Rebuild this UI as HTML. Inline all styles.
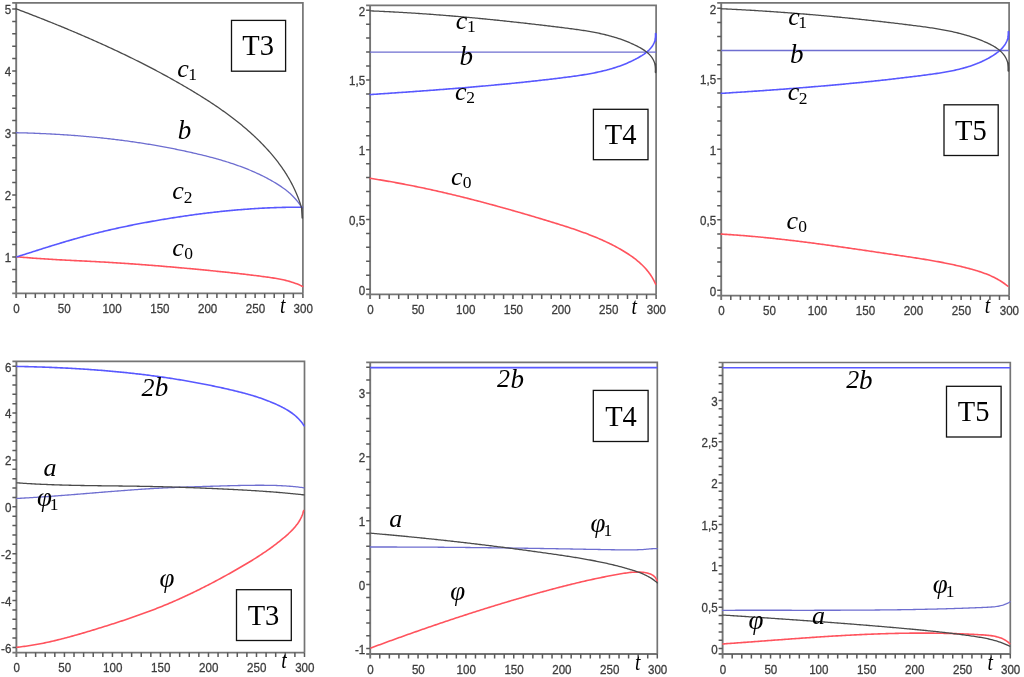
<!DOCTYPE html>
<html><head><meta charset="utf-8"><title>plots</title>
<style>
html,body{margin:0;padding:0;background:#fff;}
body{width:1024px;height:677px;overflow:hidden;}
svg{display:block;filter:blur(0.4px);}
.tl{font-family:"Liberation Sans",sans-serif;font-size:12.6px;fill:#3c3c3c;stroke:#3c3c3c;stroke-width:0.3px;}
.it{font-family:"Liberation Serif",serif;font-style:italic;fill:#000;}
.it{font-size:26px;}
.sb{font-family:"Liberation Serif",serif;font-size:17.5px;fill:#000;}
.tt{font-family:"Liberation Serif",serif;font-style:italic;font-size:23px;fill:#000;}
.tb{font-family:"Liberation Serif",serif;font-size:28.5px;fill:#000;}
</style></head>
<body><svg width="1024" height="677" viewBox="0 0 1024 677">
<rect width="1024" height="677" fill="#fff"/>
<path d="M12.20,2.90 H302.90 V293.40" fill="none" stroke="#747474" stroke-width="1.7"/>
<path d="M16.20,2.90 V297.90 M12.20,293.40 H302.90" fill="none" stroke="#747474" stroke-width="1.9"/>
<path d="M12.20,281.80H16.20M12.20,269.40H16.20M12.20,257.00H16.20M12.20,244.60H16.20M12.20,232.20H16.20M12.20,219.80H16.20M12.20,207.40H16.20M12.20,195.00H16.20M12.20,182.60H16.20M12.20,170.20H16.20M12.20,157.80H16.20M12.20,145.40H16.20M12.20,133.00H16.20M12.20,120.60H16.20M12.20,108.20H16.20M12.20,95.80H16.20M12.20,83.40H16.20M12.20,71.00H16.20M12.20,58.60H16.20M12.20,46.20H16.20M12.20,33.80H16.20M12.20,21.40H16.20M12.20,9.00H16.20M25.76,293.40V297.90M35.31,293.40V297.90M44.87,293.40V297.90M54.43,293.40V297.90M63.98,293.40V297.90M73.54,293.40V297.90M83.10,293.40V297.90M92.65,293.40V297.90M102.21,293.40V297.90M111.77,293.40V297.90M121.32,293.40V297.90M130.88,293.40V297.90M140.44,293.40V297.90M149.99,293.40V297.90M159.55,293.40V297.90M169.11,293.40V297.90M178.66,293.40V297.90M188.22,293.40V297.90M197.78,293.40V297.90M207.33,293.40V297.90M216.89,293.40V297.90M226.45,293.40V297.90M236.00,293.40V297.90M245.56,293.40V297.90M255.12,293.40V297.90M264.67,293.40V297.90M274.23,293.40V297.90M283.79,293.40V297.90M293.34,293.40V297.90M302.90,293.40V297.90" stroke="#5a5a5a" stroke-width="1.5"/>
<text transform="translate(11.20,262.30) scale(0.92,1)" class="tl" text-anchor="end">1</text>
<text transform="translate(11.20,200.30) scale(0.92,1)" class="tl" text-anchor="end">2</text>
<text transform="translate(11.20,138.30) scale(0.92,1)" class="tl" text-anchor="end">3</text>
<text transform="translate(11.20,76.30) scale(0.92,1)" class="tl" text-anchor="end">4</text>
<text transform="translate(11.20,14.30) scale(0.92,1)" class="tl" text-anchor="end">5</text>
<text transform="translate(16.50,312.90) scale(0.92,1)" class="tl" text-anchor="middle">0</text>
<text transform="translate(64.28,312.90) scale(0.92,1)" class="tl" text-anchor="middle">50</text>
<text transform="translate(112.07,312.90) scale(0.92,1)" class="tl" text-anchor="middle">100</text>
<text transform="translate(159.85,312.90) scale(0.92,1)" class="tl" text-anchor="middle">150</text>
<text transform="translate(207.63,312.90) scale(0.92,1)" class="tl" text-anchor="middle">200</text>
<text transform="translate(255.42,312.90) scale(0.92,1)" class="tl" text-anchor="middle">250</text>
<text transform="translate(303.20,312.90) scale(0.92,1)" class="tl" text-anchor="middle">300</text>
<path d="M16.90,256.73 L18.21,256.86 L19.52,256.98 L20.83,257.10 L22.14,257.22 L23.45,257.33 L24.76,257.44 L26.07,257.55 L27.38,257.66 L28.69,257.77 L30.01,257.87 L31.32,257.98 L32.63,258.08 L33.94,258.18 L35.25,258.27 L36.56,258.37 L37.88,258.46 L39.19,258.55 L40.50,258.64 L41.81,258.73 L43.13,258.82 L44.44,258.90 L45.75,258.98 L47.06,259.07 L48.38,259.15 L49.69,259.23 L51.00,259.31 L52.32,259.38 L53.63,259.46 L54.94,259.54 L56.26,259.61 L57.57,259.68 L58.88,259.76 L60.20,259.83 L61.51,259.90 L62.83,259.97 L64.14,260.04 L65.45,260.11 L66.77,260.18 L68.08,260.24 L69.40,260.31 L70.71,260.38 L72.02,260.44 L73.34,260.51 L74.65,260.58 L75.97,260.64 L77.28,260.71 L78.60,260.77 L79.91,260.84 L81.22,260.91 L82.54,260.97 L83.85,261.04 L85.17,261.10 L86.48,261.17 L87.80,261.24 L89.11,261.30 L90.43,261.37 L91.74,261.44 L93.06,261.51 L94.37,261.57 L95.68,261.64 L97.00,261.71 L98.31,261.78 L99.63,261.86 L100.94,261.93 L102.26,262.00 L103.57,262.07 L104.89,262.15 L106.20,262.23 L107.52,262.30 L108.83,262.38 L110.14,262.46 L111.46,262.54 L112.77,262.62 L114.09,262.70 L115.40,262.78 L116.72,262.86 L118.03,262.95 L119.34,263.03 L120.66,263.12 L121.97,263.20 L123.29,263.29 L124.60,263.38 L125.91,263.47 L127.23,263.55 L128.54,263.64 L129.86,263.74 L131.17,263.83 L132.48,263.92 L133.80,264.01 L135.11,264.11 L136.42,264.20 L137.74,264.30 L139.05,264.39 L140.37,264.49 L141.68,264.59 L142.99,264.69 L144.30,264.79 L145.62,264.89 L146.93,264.99 L148.24,265.09 L149.56,265.19 L150.87,265.29 L152.18,265.40 L153.49,265.50 L154.81,265.60 L156.12,265.71 L157.43,265.82 L158.74,265.92 L160.06,266.03 L161.37,266.14 L162.68,266.25 L163.99,266.36 L165.30,266.47 L166.61,266.58 L167.93,266.69 L169.24,266.80 L170.55,266.91 L171.86,267.03 L173.17,267.14 L174.48,267.25 L175.79,267.37 L177.10,267.48 L178.41,267.60 L179.72,267.72 L181.03,267.83 L182.34,267.95 L183.65,268.07 L184.96,268.19 L186.27,268.31 L187.58,268.43 L188.89,268.55 L190.20,268.67 L191.51,268.79 L192.82,268.91 L194.13,269.04 L195.44,269.16 L196.75,269.28 L198.05,269.41 L199.36,269.53 L200.67,269.66 L201.98,269.78 L203.29,269.91 L204.59,270.04 L205.90,270.16 L207.21,270.29 L208.52,270.42 L209.82,270.55 L211.13,270.68 L212.44,270.81 L213.74,270.94 L215.05,271.07 L216.36,271.20 L217.66,271.33 L218.97,271.46 L220.28,271.60 L221.58,271.73 L222.89,271.87 L224.20,272.00 L225.50,272.14 L226.81,272.28 L228.12,272.42 L229.42,272.56 L230.73,272.70 L232.04,272.84 L233.34,272.98 L234.65,273.12 L235.96,273.27 L237.26,273.41 L238.57,273.56 L239.88,273.71 L241.19,273.86 L242.50,274.01 L243.80,274.16 L245.11,274.31 L246.42,274.47 L247.73,274.62 L249.04,274.78 L250.35,274.94 L251.66,275.09 L252.97,275.26 L254.28,275.42 L255.59,275.58 L256.90,275.75 L258.21,275.91 L259.52,276.08 L260.84,276.25 L262.15,276.42 L263.46,276.59 L264.78,276.77 L266.09,276.94 L267.40,277.12 L268.72,277.31 L270.03,277.49 L271.34,277.69 L272.65,277.89 L273.96,278.09 L275.26,278.31 L276.56,278.53 L277.86,278.76 L279.16,279.00 L280.45,279.26 L281.74,279.52 L283.03,279.80 L284.31,280.08 L285.58,280.39 L286.85,280.71 L288.12,281.04 L289.38,281.39 L290.63,281.76 L291.87,282.14 L293.11,282.54 L294.34,282.96 L295.57,283.41 L296.78,283.87 L297.99,284.35 L299.19,284.86 L300.38,285.39 L301.56,285.95 L302.73,286.52" fill="none" stroke="#ff535d" stroke-width="1.6" stroke-linejoin="round" stroke-linecap="round"/>
<path d="M16.93,256.81 L18.20,256.41 L19.46,256.01 L20.72,255.61 L21.99,255.21 L23.25,254.81 L24.52,254.41 L25.78,254.00 L27.05,253.60 L28.31,253.20 L29.58,252.79 L30.84,252.39 L32.10,251.99 L33.37,251.58 L34.63,251.18 L35.90,250.78 L37.17,250.37 L38.43,249.97 L39.70,249.57 L40.96,249.17 L42.23,248.76 L43.50,248.36 L44.77,247.96 L46.03,247.56 L47.30,247.17 L48.57,246.77 L49.84,246.37 L51.11,245.98 L52.38,245.59 L53.65,245.19 L54.92,244.80 L56.19,244.41 L57.46,244.03 L58.73,243.64 L60.00,243.25 L61.28,242.87 L62.55,242.49 L63.82,242.11 L65.10,241.73 L66.37,241.35 L67.65,240.98 L68.92,240.61 L70.20,240.24 L71.48,239.87 L72.75,239.50 L74.03,239.13 L75.31,238.77 L76.59,238.41 L77.87,238.05 L79.15,237.69 L80.43,237.34 L81.71,236.99 L82.99,236.64 L84.28,236.29 L85.56,235.94 L86.84,235.60 L88.13,235.26 L89.41,234.92 L90.70,234.58 L91.99,234.25 L93.27,233.92 L94.56,233.59 L95.85,233.27 L97.14,232.94 L98.43,232.62 L99.72,232.30 L101.01,231.99 L102.30,231.67 L103.59,231.36 L104.89,231.06 L106.18,230.75 L107.47,230.45 L108.77,230.14 L110.06,229.85 L111.36,229.55 L112.65,229.25 L113.95,228.96 L115.25,228.67 L116.55,228.38 L117.84,228.10 L119.14,227.82 L120.44,227.54 L121.74,227.26 L123.04,226.98 L124.34,226.70 L125.64,226.43 L126.94,226.16 L128.25,225.89 L129.55,225.63 L130.85,225.36 L132.16,225.10 L133.46,224.84 L134.76,224.58 L136.07,224.32 L137.37,224.07 L138.68,223.82 L139.99,223.57 L141.29,223.32 L142.60,223.07 L143.91,222.83 L145.21,222.58 L146.52,222.34 L147.83,222.10 L149.14,221.86 L150.45,221.63 L151.76,221.39 L153.07,221.16 L154.38,220.93 L155.69,220.70 L157.00,220.47 L158.31,220.24 L159.62,220.02 L160.93,219.80 L162.24,219.57 L163.55,219.35 L164.87,219.14 L166.18,218.92 L167.49,218.70 L168.80,218.49 L170.12,218.28 L171.43,218.07 L172.75,217.86 L174.06,217.65 L175.37,217.45 L176.69,217.24 L178.00,217.04 L179.32,216.84 L180.64,216.64 L181.95,216.45 L183.27,216.25 L184.58,216.06 L185.90,215.87 L187.22,215.68 L188.53,215.49 L189.85,215.31 L191.17,215.12 L192.49,214.94 L193.81,214.76 L195.12,214.58 L196.44,214.41 L197.76,214.23 L199.08,214.06 L200.40,213.89 L201.72,213.72 L203.04,213.55 L204.36,213.39 L205.68,213.22 L207.00,213.06 L208.32,212.90 L209.64,212.75 L210.96,212.59 L212.28,212.44 L213.60,212.29 L214.93,212.14 L216.25,211.99 L217.57,211.84 L218.89,211.70 L220.21,211.56 L221.54,211.42 L222.86,211.28 L224.18,211.15 L225.51,211.01 L226.83,210.88 L228.15,210.76 L229.48,210.63 L230.80,210.50 L232.12,210.38 L233.45,210.26 L234.77,210.14 L236.10,210.03 L237.42,209.91 L238.75,209.80 L240.07,209.69 L241.40,209.58 L242.72,209.48 L244.05,209.38 L245.37,209.28 L246.70,209.18 L248.03,209.08 L249.35,208.99 L250.68,208.90 L252.01,208.81 L253.33,208.72 L254.66,208.63 L255.99,208.55 L257.31,208.47 L258.64,208.39 L259.97,208.32 L261.29,208.24 L262.62,208.17 L263.95,208.11 L265.28,208.04 L266.61,207.98 L267.93,207.91 L269.26,207.86 L270.59,207.80 L271.92,207.75 L273.25,207.69 L274.58,207.64 L275.90,207.60 L277.23,207.55 L278.56,207.51 L279.89,207.47 L281.22,207.44 L282.55,207.40 L283.88,207.37 L285.21,207.34 L286.54,207.31 L287.87,207.29 L289.20,207.27 L290.53,207.25 L291.86,207.23 L293.19,207.22 L294.52,207.21 L295.85,207.20 L297.18,207.19 L298.51,207.19 L299.84,207.19 L301.17,207.19 L302.50,207.19" fill="none" stroke="#5858ff" stroke-width="1.6" stroke-linejoin="round" stroke-linecap="round"/>
<path d="M16.29,132.72 L17.68,132.75 L19.07,132.78 L20.46,132.82 L21.86,132.86 L23.25,132.89 L24.64,132.93 L26.03,132.97 L27.42,133.02 L28.81,133.06 L30.19,133.11 L31.58,133.15 L32.97,133.20 L34.36,133.26 L35.75,133.31 L37.14,133.36 L38.53,133.42 L39.91,133.48 L41.30,133.54 L42.69,133.60 L44.07,133.66 L45.46,133.72 L46.85,133.79 L48.23,133.86 L49.62,133.93 L51.00,134.00 L52.39,134.07 L53.77,134.15 L55.16,134.23 L56.54,134.31 L57.93,134.39 L59.31,134.47 L60.70,134.55 L62.08,134.64 L63.46,134.73 L64.85,134.82 L66.23,134.91 L67.61,135.01 L68.99,135.10 L70.38,135.20 L71.76,135.30 L73.14,135.40 L74.52,135.50 L75.90,135.61 L77.28,135.72 L78.66,135.83 L80.04,135.94 L81.42,136.05 L82.80,136.17 L84.18,136.29 L85.56,136.40 L86.94,136.53 L88.32,136.65 L89.70,136.78 L91.08,136.90 L92.46,137.03 L93.83,137.17 L95.21,137.30 L96.59,137.44 L97.97,137.57 L99.34,137.71 L100.72,137.86 L102.10,138.00 L103.47,138.15 L104.85,138.30 L106.22,138.45 L107.60,138.60 L108.97,138.76 L110.35,138.91 L111.72,139.07 L113.10,139.24 L114.47,139.40 L115.84,139.57 L117.22,139.74 L118.59,139.91 L119.96,140.08 L121.34,140.26 L122.71,140.43 L124.08,140.61 L125.45,140.80 L126.82,140.98 L128.19,141.17 L129.56,141.36 L130.94,141.55 L132.31,141.74 L133.68,141.94 L135.05,142.14 L136.42,142.34 L137.78,142.54 L139.15,142.75 L140.52,142.96 L141.89,143.17 L143.26,143.38 L144.63,143.60 L145.99,143.81 L147.36,144.03 L148.73,144.26 L150.10,144.48 L151.46,144.71 L152.83,144.94 L154.20,145.17 L155.56,145.41 L156.93,145.65 L158.29,145.89 L159.66,146.13 L161.02,146.38 L162.39,146.63 L163.75,146.88 L165.11,147.13 L166.48,147.39 L167.84,147.64 L169.20,147.90 L170.57,148.17 L171.93,148.43 L173.29,148.70 L174.65,148.98 L176.01,149.25 L177.38,149.53 L178.74,149.81 L180.10,150.09 L181.46,150.37 L182.82,150.66 L184.18,150.95 L185.54,151.24 L186.90,151.54 L188.26,151.84 L189.61,152.14 L190.97,152.44 L192.33,152.75 L193.69,153.06 L195.05,153.37 L196.40,153.69 L197.76,154.01 L199.12,154.33 L200.47,154.65 L201.83,154.98 L203.18,155.31 L204.53,155.65 L205.89,155.99 L207.24,156.33 L208.59,156.68 L209.94,157.03 L211.29,157.38 L212.63,157.74 L213.98,158.10 L215.32,158.47 L216.66,158.85 L218.00,159.22 L219.34,159.60 L220.68,159.99 L222.01,160.38 L223.35,160.78 L224.68,161.18 L226.01,161.59 L227.34,162.00 L228.66,162.42 L229.98,162.85 L231.30,163.28 L232.62,163.72 L233.94,164.16 L235.25,164.61 L236.56,165.06 L237.87,165.52 L239.17,165.99 L240.47,166.47 L241.77,166.95 L243.06,167.44 L244.35,167.93 L245.64,168.43 L246.93,168.94 L248.21,169.46 L249.49,169.98 L250.76,170.52 L252.03,171.05 L253.30,171.60 L254.57,172.16 L255.82,172.72 L257.08,173.29 L258.33,173.87 L259.58,174.46 L260.82,175.05 L262.06,175.66 L263.30,176.27 L264.53,176.89 L265.75,177.52 L266.97,178.16 L268.19,178.81 L269.40,179.47 L270.61,180.14 L271.81,180.82 L273.01,181.50 L274.20,182.20 L275.38,182.91 L276.56,183.63 L277.73,184.36 L278.90,185.10 L280.05,185.85 L281.19,186.62 L282.32,187.41 L283.44,188.21 L284.55,189.02 L285.64,189.85 L286.72,190.70 L287.79,191.57 L288.84,192.45 L289.87,193.36 L290.89,194.28 L291.88,195.23 L292.86,196.19 L293.82,197.18 L294.76,198.19 L295.68,199.22 L296.57,200.27 L297.45,201.35 L298.30,202.45 L299.13,203.58 L299.93,204.72 L300.72,205.89 L301.48,207.08 L302.22,208.29" fill="none" stroke="#6e6ed0" stroke-width="1.3" stroke-linejoin="round" stroke-linecap="round"/>
<path d="M16.00,8.76 L17.55,9.35 L19.09,9.94 L20.63,10.52 L22.17,11.11 L23.72,11.70 L25.26,12.29 L26.80,12.89 L28.33,13.48 L29.87,14.07 L31.41,14.67 L32.94,15.27 L34.48,15.86 L36.01,16.46 L37.54,17.06 L39.08,17.66 L40.61,18.27 L42.14,18.87 L43.66,19.47 L45.19,20.08 L46.72,20.69 L48.24,21.30 L49.77,21.91 L51.29,22.52 L52.82,23.13 L54.34,23.75 L55.86,24.37 L57.38,24.98 L58.90,25.60 L60.42,26.22 L61.93,26.85 L63.45,27.47 L64.96,28.10 L66.48,28.72 L67.99,29.35 L69.50,29.98 L71.01,30.62 L72.52,31.25 L74.03,31.89 L75.54,32.52 L77.05,33.16 L78.55,33.80 L80.06,34.45 L81.56,35.09 L83.06,35.74 L84.57,36.39 L86.07,37.04 L87.57,37.69 L89.06,38.35 L90.56,39.00 L92.06,39.66 L93.55,40.32 L95.05,40.98 L96.54,41.65 L98.04,42.32 L99.53,42.98 L101.02,43.66 L102.51,44.33 L104.00,45.00 L105.48,45.68 L106.97,46.36 L108.46,47.04 L109.94,47.73 L111.42,48.42 L112.91,49.10 L114.39,49.80 L115.87,50.49 L117.35,51.19 L118.83,51.89 L120.30,52.59 L121.78,53.29 L123.26,54.00 L124.73,54.70 L126.20,55.42 L127.68,56.13 L129.15,56.85 L130.62,57.56 L132.09,58.29 L133.55,59.01 L135.02,59.74 L136.49,60.47 L137.95,61.20 L139.42,61.93 L140.88,62.67 L142.34,63.41 L143.80,64.15 L145.26,64.90 L146.72,65.65 L148.18,66.40 L149.63,67.16 L151.09,67.91 L152.54,68.67 L154.00,69.44 L155.45,70.20 L156.90,70.97 L158.35,71.75 L159.80,72.52 L161.25,73.30 L162.69,74.08 L164.14,74.87 L165.58,75.65 L167.03,76.44 L168.47,77.24 L169.91,78.04 L171.35,78.84 L172.79,79.64 L174.23,80.45 L175.67,81.26 L177.10,82.07 L178.54,82.89 L179.97,83.71 L181.41,84.53 L182.84,85.36 L184.27,86.19 L185.70,87.02 L187.13,87.86 L188.55,88.70 L189.98,89.55 L191.40,90.40 L192.82,91.25 L194.24,92.11 L195.66,92.97 L197.08,93.83 L198.49,94.70 L199.90,95.57 L201.31,96.45 L202.71,97.33 L204.11,98.22 L205.51,99.11 L206.91,100.00 L208.30,100.90 L209.69,101.81 L211.07,102.72 L212.46,103.63 L213.83,104.55 L215.21,105.47 L216.58,106.40 L217.94,107.34 L219.30,108.28 L220.66,109.22 L222.01,110.17 L223.36,111.13 L224.71,112.09 L226.04,113.06 L227.38,114.03 L228.70,115.01 L230.03,115.99 L231.34,116.98 L232.65,117.98 L233.96,118.98 L235.26,119.99 L236.55,121.00 L237.84,122.02 L239.12,123.05 L240.40,124.08 L241.67,125.12 L242.93,126.17 L244.18,127.22 L245.43,128.28 L246.67,129.34 L247.91,130.42 L249.14,131.50 L250.35,132.58 L251.57,133.68 L252.77,134.78 L253.97,135.89 L255.16,137.00 L256.34,138.12 L257.51,139.25 L258.67,140.39 L259.83,141.54 L260.98,142.69 L262.12,143.85 L263.25,145.02 L264.37,146.19 L265.48,147.38 L266.58,148.57 L267.68,149.77 L268.76,150.98 L269.83,152.19 L270.90,153.42 L271.95,154.65 L272.99,155.89 L274.02,157.14 L275.04,158.40 L276.05,159.67 L277.05,160.94 L278.03,162.23 L279.01,163.52 L279.97,164.82 L280.91,166.14 L281.85,167.46 L282.77,168.79 L283.68,170.13 L284.57,171.48 L285.45,172.84 L286.32,174.21 L287.17,175.59 L288.01,176.98 L288.83,178.38 L289.64,179.79 L290.43,181.21 L291.21,182.64 L291.97,184.08 L292.71,185.53 L293.44,186.99 L294.15,188.46 L294.85,189.95 L295.52,191.44 L296.18,192.94 L296.82,194.46 L297.45,195.99 L298.05,197.52 L298.64,199.07 L299.21,200.63 L299.76,202.20 L300.29,203.79 L300.80,205.38 L301.30,206.99 L301.77,208.61" fill="none" stroke="#4a4a4a" stroke-width="1.3" stroke-linejoin="round" stroke-linecap="round"/>
<path d="M301.70,207.50 L302.30,218.00" fill="none" stroke="#4a4a4a" stroke-width="1.6" stroke-linecap="round"/>
<text x="177.30" y="76.70" class="it" style="font-size:26px">c</text>
<text x="188.35" y="80.45" class="sb" style="font-size:17.5px">1</text>
<text x="177.70" y="138.90" class="it" style="font-size:27px">b</text>
<text x="172.20" y="199.15" class="it" style="font-size:26px">c</text>
<text x="183.70" y="203.05" class="sb" style="font-size:17.5px">2</text>
<text x="172.20" y="255.95" class="it" style="font-size:26px">c</text>
<text x="184.30" y="259.45" class="sb" style="font-size:17.5px">0</text>
<rect x="231.50" y="20.40" width="54.10" height="50.80" fill="#fff" stroke="#111" stroke-width="1.3"/>
<text x="242.30" y="55.30" class="tb" style="font-size:28.5px">T3</text>
<text transform="translate(280.00,312.70) scale(0.85,1)" class="tt" style="font-size:23px">t</text>
<path d="M366.10,5.30 H656.10 V294.40" fill="none" stroke="#747474" stroke-width="1.7"/>
<path d="M370.10,5.30 V298.90 M366.10,294.40 H656.10" fill="none" stroke="#747474" stroke-width="1.9"/>
<path d="M366.10,289.20H370.10M366.10,275.25H370.10M366.10,261.30H370.10M366.10,247.35H370.10M366.10,233.40H370.10M366.10,219.45H370.10M366.10,205.50H370.10M366.10,191.55H370.10M366.10,177.60H370.10M366.10,163.65H370.10M366.10,149.70H370.10M366.10,135.75H370.10M366.10,121.80H370.10M366.10,107.85H370.10M366.10,93.90H370.10M366.10,79.95H370.10M366.10,66.00H370.10M366.10,52.05H370.10M366.10,38.10H370.10M366.10,24.15H370.10M366.10,10.20H370.10M379.63,294.40V298.90M389.17,294.40V298.90M398.70,294.40V298.90M408.23,294.40V298.90M417.77,294.40V298.90M427.30,294.40V298.90M436.83,294.40V298.90M446.37,294.40V298.90M455.90,294.40V298.90M465.43,294.40V298.90M474.97,294.40V298.90M484.50,294.40V298.90M494.03,294.40V298.90M503.57,294.40V298.90M513.10,294.40V298.90M522.63,294.40V298.90M532.17,294.40V298.90M541.70,294.40V298.90M551.23,294.40V298.90M560.77,294.40V298.90M570.30,294.40V298.90M579.83,294.40V298.90M589.37,294.40V298.90M598.90,294.40V298.90M608.43,294.40V298.90M617.97,294.40V298.90M627.50,294.40V298.90M637.03,294.40V298.90M646.57,294.40V298.90M656.10,294.40V298.90" stroke="#5a5a5a" stroke-width="1.5"/>
<text transform="translate(365.10,294.50) scale(0.92,1)" class="tl" text-anchor="end">0</text>
<text transform="translate(365.10,224.75) scale(0.92,1)" class="tl" text-anchor="end">0,5</text>
<text transform="translate(365.10,155.00) scale(0.92,1)" class="tl" text-anchor="end">1</text>
<text transform="translate(365.10,85.25) scale(0.92,1)" class="tl" text-anchor="end">1,5</text>
<text transform="translate(365.10,15.50) scale(0.92,1)" class="tl" text-anchor="end">2</text>
<text transform="translate(370.40,313.90) scale(0.92,1)" class="tl" text-anchor="middle">0</text>
<text transform="translate(418.07,313.90) scale(0.92,1)" class="tl" text-anchor="middle">50</text>
<text transform="translate(465.73,313.90) scale(0.92,1)" class="tl" text-anchor="middle">100</text>
<text transform="translate(513.40,313.90) scale(0.92,1)" class="tl" text-anchor="middle">150</text>
<text transform="translate(561.07,313.90) scale(0.92,1)" class="tl" text-anchor="middle">200</text>
<text transform="translate(608.73,313.90) scale(0.92,1)" class="tl" text-anchor="middle">250</text>
<text transform="translate(656.40,313.90) scale(0.92,1)" class="tl" text-anchor="middle">300</text>
<path d="M370.10,52.10H656.10" stroke="#6e6ed0" stroke-width="1.3"/>
<path d="M370.30,178.35 L371.71,178.56 L373.12,178.78 L374.53,179.00 L375.94,179.23 L377.35,179.45 L378.75,179.68 L380.16,179.91 L381.56,180.14 L382.97,180.38 L384.37,180.61 L385.78,180.85 L387.18,181.09 L388.59,181.34 L389.99,181.58 L391.39,181.83 L392.79,182.08 L394.19,182.33 L395.59,182.59 L396.99,182.84 L398.39,183.10 L399.79,183.36 L401.19,183.62 L402.59,183.89 L403.99,184.15 L405.38,184.42 L406.78,184.69 L408.17,184.96 L409.57,185.24 L410.97,185.52 L412.36,185.79 L413.75,186.07 L415.15,186.36 L416.54,186.64 L417.93,186.93 L419.33,187.21 L420.72,187.50 L422.11,187.80 L423.50,188.09 L424.89,188.38 L426.28,188.68 L427.67,188.98 L429.06,189.28 L430.45,189.58 L431.83,189.89 L433.22,190.20 L434.61,190.50 L436.00,190.81 L437.38,191.13 L438.77,191.44 L440.16,191.75 L441.54,192.07 L442.93,192.39 L444.31,192.71 L445.69,193.03 L447.08,193.35 L448.46,193.68 L449.84,194.01 L451.23,194.34 L452.61,194.67 L453.99,195.00 L455.37,195.33 L456.75,195.67 L458.13,196.00 L459.51,196.34 L460.89,196.68 L462.27,197.02 L463.65,197.36 L465.03,197.71 L466.41,198.05 L467.79,198.40 L469.17,198.75 L470.54,199.10 L471.92,199.45 L473.30,199.81 L474.67,200.16 L476.05,200.52 L477.43,200.87 L478.80,201.23 L480.18,201.59 L481.55,201.95 L482.93,202.32 L484.30,202.68 L485.67,203.05 L487.05,203.41 L488.42,203.78 L489.79,204.15 L491.17,204.52 L492.54,204.89 L493.91,205.27 L495.28,205.64 L496.66,206.02 L498.03,206.40 L499.40,206.77 L500.77,207.15 L502.14,207.53 L503.51,207.92 L504.88,208.30 L506.25,208.68 L507.62,209.07 L508.99,209.46 L510.36,209.84 L511.73,210.23 L513.10,210.62 L514.46,211.02 L515.83,211.41 L517.20,211.80 L518.57,212.19 L519.94,212.59 L521.30,212.99 L522.67,213.38 L524.04,213.78 L525.40,214.18 L526.77,214.58 L528.14,214.98 L529.50,215.39 L530.87,215.79 L532.24,216.19 L533.60,216.60 L534.97,217.01 L536.33,217.41 L537.70,217.82 L539.06,218.23 L540.43,218.64 L541.79,219.05 L543.16,219.46 L544.52,219.87 L545.88,220.29 L547.25,220.70 L548.61,221.12 L549.98,221.53 L551.34,221.95 L552.70,222.37 L554.06,222.78 L555.43,223.20 L556.79,223.63 L558.15,224.05 L559.51,224.47 L560.87,224.90 L562.23,225.33 L563.59,225.76 L564.95,226.19 L566.31,226.63 L567.66,227.07 L569.02,227.51 L570.37,227.96 L571.72,228.40 L573.07,228.86 L574.42,229.31 L575.77,229.77 L577.11,230.24 L578.46,230.71 L579.80,231.18 L581.14,231.66 L582.48,232.14 L583.81,232.63 L585.15,233.12 L586.48,233.62 L587.81,234.12 L589.14,234.63 L590.46,235.15 L591.78,235.67 L593.10,236.20 L594.42,236.73 L595.73,237.27 L597.04,237.82 L598.35,238.37 L599.66,238.94 L600.96,239.50 L602.26,240.08 L603.55,240.66 L604.85,241.26 L606.13,241.86 L607.42,242.46 L608.70,243.08 L609.98,243.71 L611.25,244.34 L612.52,244.98 L613.79,245.64 L615.05,246.30 L616.31,246.97 L617.56,247.65 L618.81,248.34 L620.06,249.04 L621.30,249.75 L622.53,250.47 L623.76,251.20 L624.98,251.95 L626.19,252.70 L627.40,253.47 L628.59,254.25 L629.78,255.05 L630.95,255.86 L632.11,256.68 L633.26,257.51 L634.40,258.37 L635.52,259.23 L636.62,260.11 L637.71,261.01 L638.79,261.93 L639.84,262.86 L640.88,263.81 L641.90,264.77 L642.91,265.76 L643.89,266.76 L644.85,267.78 L645.78,268.82 L646.70,269.88 L647.59,270.96 L648.46,272.06 L649.31,273.18 L650.12,274.33 L650.92,275.49 L651.68,276.68 L652.42,277.89 L653.13,279.12 L653.81,280.37 L654.46,281.65 L655.07,282.96 L655.66,284.28" fill="none" stroke="#ff535d" stroke-width="1.6" stroke-linejoin="round" stroke-linecap="round"/>
<path d="M370.28,94.58 L371.67,94.48 L373.07,94.39 L374.46,94.29 L375.85,94.20 L377.24,94.10 L378.64,94.01 L380.03,93.91 L381.42,93.82 L382.81,93.72 L384.20,93.63 L385.58,93.53 L386.97,93.44 L388.36,93.34 L389.75,93.25 L391.14,93.15 L392.52,93.06 L393.91,92.96 L395.30,92.86 L396.68,92.77 L398.07,92.67 L399.45,92.57 L400.84,92.48 L402.22,92.38 L403.61,92.28 L404.99,92.19 L406.37,92.09 L407.76,91.99 L409.14,91.89 L410.52,91.80 L411.90,91.70 L413.29,91.60 L414.67,91.50 L416.05,91.40 L417.43,91.30 L418.81,91.20 L420.19,91.10 L421.57,91.00 L422.95,90.90 L424.33,90.80 L425.71,90.70 L427.09,90.60 L428.47,90.49 L429.85,90.39 L431.23,90.29 L432.61,90.19 L433.99,90.08 L435.36,89.98 L436.74,89.88 L438.12,89.77 L439.50,89.67 L440.88,89.56 L442.25,89.46 L443.63,89.35 L445.01,89.24 L446.38,89.14 L447.76,89.03 L449.14,88.92 L450.51,88.81 L451.89,88.70 L453.27,88.59 L454.64,88.48 L456.02,88.37 L457.40,88.26 L458.77,88.15 L460.15,88.04 L461.52,87.93 L462.90,87.81 L464.28,87.70 L465.65,87.59 L467.03,87.47 L468.40,87.36 L469.78,87.24 L471.15,87.12 L472.53,87.01 L473.91,86.89 L475.28,86.77 L476.66,86.65 L478.03,86.53 L479.41,86.41 L480.78,86.29 L482.16,86.17 L483.54,86.05 L484.91,85.93 L486.29,85.80 L487.66,85.68 L489.04,85.55 L490.42,85.43 L491.79,85.30 L493.17,85.18 L494.55,85.05 L495.92,84.92 L497.30,84.79 L498.68,84.66 L500.05,84.53 L501.43,84.40 L502.81,84.27 L504.19,84.14 L505.56,84.00 L506.94,83.87 L508.32,83.73 L509.70,83.60 L511.08,83.46 L512.45,83.32 L513.83,83.18 L515.21,83.05 L516.59,82.91 L517.97,82.76 L519.35,82.62 L520.73,82.48 L522.11,82.34 L523.49,82.19 L524.87,82.05 L526.25,81.90 L527.63,81.75 L529.01,81.60 L530.39,81.46 L531.78,81.31 L533.16,81.15 L534.54,81.00 L535.92,80.85 L537.31,80.70 L538.69,80.54 L540.07,80.39 L541.46,80.23 L542.84,80.07 L544.23,79.91 L545.61,79.75 L547.00,79.59 L548.38,79.43 L549.77,79.27 L551.15,79.10 L552.54,78.94 L553.93,78.77 L555.32,78.61 L556.70,78.44 L558.09,78.27 L559.48,78.10 L560.87,77.93 L562.26,77.75 L563.65,77.58 L565.04,77.41 L566.43,77.23 L567.82,77.05 L569.21,76.87 L570.60,76.69 L571.99,76.50 L573.38,76.31 L574.77,76.12 L576.16,75.92 L577.54,75.72 L578.93,75.52 L580.32,75.31 L581.70,75.10 L583.08,74.88 L584.46,74.65 L585.84,74.42 L587.22,74.19 L588.60,73.95 L589.97,73.70 L591.34,73.45 L592.71,73.19 L594.08,72.92 L595.44,72.65 L596.80,72.36 L598.16,72.07 L599.52,71.78 L600.87,71.47 L602.22,71.15 L603.57,70.83 L604.91,70.50 L606.25,70.15 L607.59,69.80 L608.92,69.44 L610.25,69.06 L611.58,68.68 L612.90,68.28 L614.21,67.88 L615.52,67.46 L616.83,67.03 L618.13,66.59 L619.43,66.14 L620.72,65.67 L622.01,65.19 L623.29,64.70 L624.57,64.20 L625.84,63.68 L627.11,63.15 L628.37,62.60 L629.63,62.04 L630.87,61.46 L632.12,60.87 L633.35,60.27 L634.58,59.65 L635.81,59.01 L637.03,58.36 L638.24,57.69 L639.44,57.00 L640.63,56.30 L641.81,55.58 L642.97,54.83 L644.11,54.06 L645.22,53.26 L646.29,52.44 L647.33,51.58 L648.33,50.70 L649.29,49.77 L650.20,48.82 L651.05,47.82 L651.85,46.78 L652.58,45.70 L653.25,44.58 L653.85,43.41 L654.38,42.20 L654.82,40.93 L655.19,39.61 L655.47,38.23 L655.65,36.80 L655.74,35.32 L655.73,33.77" fill="none" stroke="#5858ff" stroke-width="1.6" stroke-linejoin="round" stroke-linecap="round"/>
<path d="M370.29,10.87 L371.69,10.92 L373.08,10.98 L374.47,11.04 L375.87,11.10 L377.26,11.16 L378.65,11.22 L380.04,11.29 L381.44,11.35 L382.83,11.42 L384.22,11.48 L385.61,11.55 L387.00,11.62 L388.39,11.69 L389.78,11.76 L391.17,11.83 L392.56,11.90 L393.95,11.98 L395.34,12.05 L396.73,12.13 L398.12,12.21 L399.51,12.29 L400.90,12.36 L402.29,12.45 L403.68,12.53 L405.06,12.61 L406.45,12.69 L407.84,12.78 L409.23,12.86 L410.62,12.95 L412.00,13.04 L413.39,13.13 L414.78,13.22 L416.16,13.31 L417.55,13.40 L418.94,13.49 L420.32,13.59 L421.71,13.68 L423.10,13.78 L424.48,13.87 L425.87,13.97 L427.26,14.07 L428.64,14.17 L430.03,14.27 L431.41,14.37 L432.80,14.47 L434.18,14.58 L435.57,14.68 L436.95,14.79 L438.34,14.89 L439.72,15.00 L441.11,15.11 L442.49,15.22 L443.88,15.33 L445.26,15.44 L446.65,15.55 L448.03,15.66 L449.41,15.77 L450.80,15.89 L452.18,16.00 L453.57,16.12 L454.95,16.24 L456.33,16.35 L457.72,16.47 L459.10,16.59 L460.48,16.71 L461.87,16.83 L463.25,16.96 L464.63,17.08 L466.02,17.20 L467.40,17.33 L468.78,17.45 L470.17,17.58 L471.55,17.71 L472.93,17.83 L474.32,17.96 L475.70,18.09 L477.08,18.22 L478.47,18.35 L479.85,18.49 L481.23,18.62 L482.61,18.75 L484.00,18.89 L485.38,19.02 L486.76,19.16 L488.15,19.30 L489.53,19.43 L490.91,19.57 L492.29,19.71 L493.68,19.85 L495.06,19.99 L496.44,20.13 L497.82,20.27 L499.21,20.42 L500.59,20.56 L501.97,20.70 L503.36,20.85 L504.74,20.99 L506.12,21.14 L507.50,21.29 L508.89,21.43 L510.27,21.58 L511.65,21.73 L513.04,21.88 L514.42,22.03 L515.80,22.18 L517.19,22.34 L518.57,22.49 L519.95,22.64 L521.34,22.79 L522.72,22.95 L524.10,23.10 L525.49,23.26 L526.87,23.42 L528.25,23.57 L529.64,23.73 L531.02,23.89 L532.40,24.05 L533.79,24.21 L535.17,24.37 L536.56,24.53 L537.94,24.69 L539.32,24.85 L540.71,25.02 L542.09,25.18 L543.48,25.34 L544.86,25.51 L546.25,25.67 L547.63,25.84 L549.02,26.00 L550.40,26.17 L551.79,26.34 L553.17,26.51 L554.56,26.67 L555.94,26.84 L557.33,27.01 L558.71,27.18 L560.10,27.35 L561.49,27.52 L562.87,27.70 L564.26,27.87 L565.65,28.04 L567.03,28.22 L568.42,28.39 L569.80,28.57 L571.19,28.75 L572.57,28.93 L573.96,29.12 L575.34,29.30 L576.72,29.50 L578.11,29.69 L579.49,29.89 L580.87,30.09 L582.25,30.30 L583.62,30.51 L585.00,30.73 L586.38,30.95 L587.75,31.17 L589.12,31.41 L590.49,31.65 L591.86,31.89 L593.23,32.14 L594.59,32.40 L595.95,32.67 L597.32,32.94 L598.67,33.22 L600.03,33.51 L601.38,33.80 L602.74,34.11 L604.08,34.42 L605.43,34.75 L606.77,35.08 L608.11,35.42 L609.45,35.77 L610.79,36.14 L612.12,36.51 L613.45,36.89 L614.77,37.29 L616.09,37.69 L617.41,38.11 L618.72,38.54 L620.04,38.98 L621.34,39.43 L622.65,39.90 L623.95,40.38 L625.24,40.87 L626.53,41.38 L627.82,41.90 L629.10,42.43 L630.38,42.98 L631.65,43.55 L632.92,44.12 L634.19,44.72 L635.45,45.33 L636.70,45.95 L637.95,46.59 L639.19,47.25 L640.42,47.93 L641.64,48.63 L642.83,49.36 L643.99,50.11 L645.13,50.90 L646.23,51.72 L647.29,52.57 L648.31,53.46 L649.28,54.39 L650.20,55.37 L651.06,56.39 L651.85,57.46 L652.59,58.58 L653.25,59.74 L653.84,60.94 L654.36,62.19 L654.79,63.48 L655.14,64.81 L655.40,66.18 L655.57,67.59 L655.65,69.03 L655.62,70.51 L655.49,72.03" fill="none" stroke="#4a4a4a" stroke-width="1.3" stroke-linejoin="round" stroke-linecap="round"/>
<path d="M655.50,64.00 L655.60,72.50" fill="none" stroke="#4a4a4a" stroke-width="1.6" stroke-linecap="round"/>
<path d="M655.60,33.50 L655.60,41.00" fill="none" stroke="#5858ff" stroke-width="1.6" stroke-linecap="round"/>
<text x="455.80" y="28.55" class="it" style="font-size:26px">c</text>
<text x="466.95" y="31.70" class="sb" style="font-size:17.5px">1</text>
<text x="459.40" y="64.90" class="it" style="font-size:27px">b</text>
<text x="454.90" y="99.75" class="it" style="font-size:26px">c</text>
<text x="466.30" y="102.95" class="sb" style="font-size:17.5px">2</text>
<text x="451.00" y="184.60" class="it" style="font-size:26px">c</text>
<text x="462.85" y="188.00" class="sb" style="font-size:17.5px">0</text>
<rect x="593.40" y="109.30" width="54.60" height="50.40" fill="#fff" stroke="#111" stroke-width="1.3"/>
<text x="604.80" y="143.60" class="tb" style="font-size:28.5px">T4</text>
<text transform="translate(631.60,314.25) scale(0.85,1)" class="tt" style="font-size:23px">t</text>
<path d="M717.20,2.80 H1009.10 V295.60" fill="none" stroke="#747474" stroke-width="1.7"/>
<path d="M721.20,2.80 V300.10 M717.20,295.60 H1009.10" fill="none" stroke="#747474" stroke-width="1.9"/>
<path d="M717.20,290.30H721.20M717.20,276.20H721.20M717.20,262.10H721.20M717.20,248.00H721.20M717.20,233.90H721.20M717.20,219.80H721.20M717.20,205.70H721.20M717.20,191.60H721.20M717.20,177.50H721.20M717.20,163.40H721.20M717.20,149.30H721.20M717.20,135.20H721.20M717.20,121.10H721.20M717.20,107.00H721.20M717.20,92.90H721.20M717.20,78.80H721.20M717.20,64.70H721.20M717.20,50.60H721.20M717.20,36.50H721.20M717.20,22.40H721.20M717.20,8.30H721.20M730.80,295.60V300.10M740.39,295.60V300.10M749.99,295.60V300.10M759.59,295.60V300.10M769.18,295.60V300.10M778.78,295.60V300.10M788.38,295.60V300.10M797.97,295.60V300.10M807.57,295.60V300.10M817.17,295.60V300.10M826.76,295.60V300.10M836.36,295.60V300.10M845.96,295.60V300.10M855.55,295.60V300.10M865.15,295.60V300.10M874.75,295.60V300.10M884.34,295.60V300.10M893.94,295.60V300.10M903.54,295.60V300.10M913.13,295.60V300.10M922.73,295.60V300.10M932.33,295.60V300.10M941.92,295.60V300.10M951.52,295.60V300.10M961.12,295.60V300.10M970.71,295.60V300.10M980.31,295.60V300.10M989.91,295.60V300.10M999.50,295.60V300.10M1009.10,295.60V300.10" stroke="#5a5a5a" stroke-width="1.5"/>
<text transform="translate(716.20,295.60) scale(0.92,1)" class="tl" text-anchor="end">0</text>
<text transform="translate(716.20,225.10) scale(0.92,1)" class="tl" text-anchor="end">0,5</text>
<text transform="translate(716.20,154.60) scale(0.92,1)" class="tl" text-anchor="end">1</text>
<text transform="translate(716.20,84.10) scale(0.92,1)" class="tl" text-anchor="end">1,5</text>
<text transform="translate(716.20,13.60) scale(0.92,1)" class="tl" text-anchor="end">2</text>
<text transform="translate(721.50,315.10) scale(0.92,1)" class="tl" text-anchor="middle">0</text>
<text transform="translate(769.48,315.10) scale(0.92,1)" class="tl" text-anchor="middle">50</text>
<text transform="translate(817.47,315.10) scale(0.92,1)" class="tl" text-anchor="middle">100</text>
<text transform="translate(865.45,315.10) scale(0.92,1)" class="tl" text-anchor="middle">150</text>
<text transform="translate(913.43,315.10) scale(0.92,1)" class="tl" text-anchor="middle">200</text>
<text transform="translate(961.42,315.10) scale(0.92,1)" class="tl" text-anchor="middle">250</text>
<text transform="translate(1009.40,315.10) scale(0.92,1)" class="tl" text-anchor="middle">300</text>
<path d="M721.20,50.50H1009.10" stroke="#6e6ed0" stroke-width="1.3"/>
<path d="M721.19,234.09 L722.54,234.16 L723.88,234.24 L725.22,234.33 L726.56,234.41 L727.90,234.49 L729.24,234.58 L730.58,234.67 L731.92,234.76 L733.26,234.85 L734.60,234.95 L735.94,235.04 L737.28,235.14 L738.61,235.24 L739.95,235.34 L741.29,235.45 L742.63,235.55 L743.96,235.66 L745.30,235.77 L746.64,235.88 L747.97,235.99 L749.31,236.10 L750.64,236.22 L751.98,236.33 L753.31,236.45 L754.65,236.57 L755.98,236.69 L757.31,236.82 L758.65,236.94 L759.98,237.07 L761.31,237.19 L762.65,237.32 L763.98,237.45 L765.31,237.58 L766.65,237.72 L767.98,237.85 L769.31,237.99 L770.64,238.13 L771.97,238.26 L773.30,238.40 L774.63,238.55 L775.96,238.69 L777.30,238.83 L778.63,238.98 L779.96,239.12 L781.29,239.27 L782.62,239.42 L783.94,239.57 L785.27,239.72 L786.60,239.88 L787.93,240.03 L789.26,240.19 L790.59,240.34 L791.92,240.50 L793.25,240.66 L794.58,240.82 L795.90,240.98 L797.23,241.14 L798.56,241.30 L799.89,241.47 L801.22,241.63 L802.54,241.80 L803.87,241.96 L805.20,242.13 L806.53,242.30 L807.85,242.47 L809.18,242.64 L810.51,242.81 L811.83,242.98 L813.16,243.16 L814.49,243.33 L815.81,243.51 L817.14,243.68 L818.47,243.86 L819.79,244.03 L821.12,244.21 L822.45,244.39 L823.77,244.57 L825.10,244.75 L826.42,244.93 L827.75,245.11 L829.08,245.30 L830.40,245.48 L831.73,245.66 L833.05,245.85 L834.38,246.03 L835.71,246.22 L837.03,246.40 L838.36,246.59 L839.69,246.78 L841.01,246.96 L842.34,247.15 L843.66,247.34 L844.99,247.53 L846.32,247.72 L847.64,247.91 L848.97,248.10 L850.29,248.29 L851.62,248.48 L852.95,248.67 L854.27,248.87 L855.60,249.06 L856.93,249.25 L858.25,249.44 L859.58,249.64 L860.91,249.83 L862.23,250.02 L863.56,250.22 L864.89,250.41 L866.21,250.61 L867.54,250.80 L868.87,251.00 L870.19,251.19 L871.52,251.39 L872.85,251.58 L874.18,251.78 L875.50,251.97 L876.83,252.17 L878.16,252.36 L879.49,252.56 L880.82,252.76 L882.15,252.95 L883.47,253.15 L884.80,253.34 L886.13,253.54 L887.46,253.74 L888.79,253.93 L890.12,254.13 L891.45,254.32 L892.78,254.52 L894.11,254.71 L895.44,254.91 L896.77,255.10 L898.10,255.30 L899.43,255.50 L900.76,255.69 L902.09,255.89 L903.42,256.08 L904.75,256.28 L906.08,256.48 L907.41,256.68 L908.74,256.88 L910.07,257.08 L911.40,257.28 L912.73,257.48 L914.06,257.68 L915.39,257.89 L916.72,258.09 L918.05,258.30 L919.38,258.51 L920.71,258.72 L922.03,258.93 L923.36,259.15 L924.69,259.37 L926.02,259.59 L927.34,259.81 L928.67,260.03 L929.99,260.25 L931.32,260.48 L932.64,260.71 L933.97,260.95 L935.29,261.18 L936.61,261.42 L937.93,261.66 L939.25,261.91 L940.57,262.16 L941.89,262.41 L943.21,262.66 L944.53,262.92 L945.85,263.18 L947.16,263.45 L948.48,263.72 L949.79,263.99 L951.11,264.27 L952.42,264.55 L953.73,264.84 L955.04,265.12 L956.35,265.42 L957.66,265.72 L958.97,266.02 L960.27,266.33 L961.58,266.64 L962.88,266.96 L964.18,267.28 L965.48,267.60 L966.78,267.94 L968.08,268.27 L969.38,268.62 L970.67,268.97 L971.97,269.32 L973.26,269.68 L974.55,270.05 L975.83,270.43 L977.11,270.82 L978.39,271.22 L979.66,271.63 L980.93,272.05 L982.19,272.48 L983.44,272.93 L984.70,273.38 L985.94,273.85 L987.18,274.34 L988.41,274.84 L989.63,275.35 L990.84,275.89 L992.05,276.44 L993.25,277.00 L994.43,277.59 L995.61,278.19 L996.78,278.81 L997.94,279.45 L999.09,280.11 L1000.23,280.80 L1001.35,281.50 L1002.47,282.23 L1003.57,282.98 L1004.66,283.76 L1005.74,284.56 L1006.80,285.38 L1007.85,286.23" fill="none" stroke="#ff535d" stroke-width="1.6" stroke-linejoin="round" stroke-linecap="round"/>
<path d="M721.28,93.38 L722.69,93.29 L724.09,93.20 L725.50,93.11 L726.90,93.02 L728.31,92.93 L729.71,92.84 L731.12,92.75 L732.52,92.66 L733.92,92.57 L735.32,92.48 L736.73,92.39 L738.13,92.30 L739.53,92.20 L740.93,92.11 L742.33,92.02 L743.73,91.93 L745.13,91.83 L746.53,91.74 L747.93,91.65 L749.32,91.55 L750.72,91.46 L752.12,91.36 L753.52,91.27 L754.91,91.17 L756.31,91.08 L757.70,90.98 L759.10,90.88 L760.49,90.79 L761.89,90.69 L763.28,90.59 L764.68,90.49 L766.07,90.39 L767.46,90.30 L768.86,90.20 L770.25,90.10 L771.64,90.00 L773.04,89.90 L774.43,89.80 L775.82,89.69 L777.21,89.59 L778.60,89.49 L779.99,89.39 L781.38,89.29 L782.77,89.18 L784.16,89.08 L785.55,88.97 L786.94,88.87 L788.33,88.76 L789.72,88.66 L791.11,88.55 L792.50,88.44 L793.89,88.34 L795.28,88.23 L796.67,88.12 L798.06,88.01 L799.45,87.90 L800.83,87.79 L802.22,87.68 L803.61,87.57 L805.00,87.46 L806.38,87.35 L807.77,87.23 L809.16,87.12 L810.55,87.01 L811.93,86.89 L813.32,86.78 L814.71,86.66 L816.09,86.55 L817.48,86.43 L818.87,86.31 L820.26,86.19 L821.64,86.07 L823.03,85.95 L824.42,85.83 L825.80,85.71 L827.19,85.59 L828.58,85.47 L829.96,85.35 L831.35,85.22 L832.74,85.10 L834.12,84.98 L835.51,84.85 L836.90,84.72 L838.28,84.60 L839.67,84.47 L841.06,84.34 L842.44,84.21 L843.83,84.08 L845.22,83.95 L846.60,83.82 L847.99,83.69 L849.38,83.56 L850.77,83.42 L852.15,83.29 L853.54,83.16 L854.93,83.02 L856.32,82.88 L857.70,82.75 L859.09,82.61 L860.48,82.47 L861.87,82.33 L863.26,82.19 L864.65,82.05 L866.04,81.91 L867.43,81.76 L868.81,81.62 L870.20,81.48 L871.59,81.33 L872.98,81.18 L874.37,81.04 L875.76,80.89 L877.15,80.74 L878.55,80.59 L879.94,80.44 L881.33,80.29 L882.72,80.14 L884.11,79.98 L885.50,79.83 L886.90,79.68 L888.29,79.52 L889.68,79.36 L891.08,79.20 L892.47,79.05 L893.86,78.89 L895.26,78.73 L896.65,78.56 L898.05,78.40 L899.44,78.24 L900.84,78.07 L902.23,77.91 L903.63,77.74 L905.03,77.57 L906.42,77.41 L907.82,77.24 L909.22,77.07 L910.62,76.90 L912.02,76.72 L913.41,76.55 L914.81,76.37 L916.21,76.20 L917.61,76.02 L919.01,75.85 L920.42,75.67 L921.82,75.49 L923.22,75.31 L924.62,75.12 L926.02,74.94 L927.43,74.76 L928.83,74.57 L930.23,74.38 L931.64,74.19 L933.04,73.99 L934.44,73.79 L935.84,73.59 L937.24,73.38 L938.64,73.17 L940.03,72.96 L941.43,72.73 L942.82,72.51 L944.21,72.27 L945.60,72.03 L946.98,71.78 L948.37,71.53 L949.75,71.27 L951.13,71.00 L952.50,70.72 L953.87,70.43 L955.24,70.13 L956.60,69.83 L957.96,69.51 L959.32,69.18 L960.67,68.84 L962.02,68.49 L963.36,68.13 L964.69,67.76 L966.03,67.38 L967.35,66.98 L968.67,66.57 L969.99,66.15 L971.30,65.71 L972.60,65.26 L973.90,64.79 L975.19,64.31 L976.48,63.82 L977.76,63.30 L979.03,62.78 L980.29,62.23 L981.55,61.67 L982.80,61.09 L984.04,60.50 L985.27,59.89 L986.50,59.25 L987.71,58.60 L988.92,57.93 L990.12,57.25 L991.32,56.54 L992.50,55.81 L993.67,55.06 L994.83,54.29 L995.97,53.49 L997.08,52.67 L998.17,51.82 L999.23,50.94 L1000.25,50.04 L1001.24,49.10 L1002.18,48.12 L1003.07,47.12 L1003.91,46.08 L1004.69,44.99 L1005.42,43.87 L1006.07,42.71 L1006.66,41.51 L1007.18,40.26 L1007.62,38.97 L1007.98,37.63 L1008.25,36.24 L1008.44,34.80 L1008.53,33.31 L1008.52,31.77" fill="none" stroke="#5858ff" stroke-width="1.6" stroke-linejoin="round" stroke-linecap="round"/>
<path d="M721.30,8.74 L722.70,8.81 L724.10,8.87 L725.50,8.94 L726.90,9.00 L728.30,9.07 L729.69,9.14 L731.09,9.21 L732.49,9.28 L733.89,9.35 L735.29,9.42 L736.69,9.49 L738.08,9.57 L739.48,9.64 L740.88,9.72 L742.28,9.79 L743.68,9.87 L745.07,9.95 L746.47,10.03 L747.87,10.11 L749.27,10.19 L750.67,10.27 L752.07,10.35 L753.46,10.44 L754.86,10.52 L756.26,10.61 L757.66,10.69 L759.05,10.78 L760.45,10.87 L761.85,10.96 L763.25,11.05 L764.65,11.14 L766.04,11.23 L767.44,11.32 L768.84,11.41 L770.24,11.51 L771.63,11.60 L773.03,11.70 L774.43,11.80 L775.83,11.89 L777.22,11.99 L778.62,12.09 L780.02,12.19 L781.41,12.29 L782.81,12.39 L784.21,12.49 L785.61,12.60 L787.00,12.70 L788.40,12.81 L789.80,12.91 L791.19,13.02 L792.59,13.13 L793.99,13.24 L795.38,13.34 L796.78,13.45 L798.18,13.57 L799.57,13.68 L800.97,13.79 L802.37,13.90 L803.76,14.02 L805.16,14.13 L806.56,14.25 L807.95,14.36 L809.35,14.48 L810.74,14.60 L812.14,14.72 L813.54,14.84 L814.93,14.96 L816.33,15.08 L817.72,15.20 L819.12,15.33 L820.51,15.45 L821.91,15.58 L823.31,15.70 L824.70,15.83 L826.10,15.95 L827.49,16.08 L828.89,16.21 L830.28,16.34 L831.68,16.47 L833.07,16.60 L834.47,16.73 L835.86,16.87 L837.26,17.00 L838.65,17.13 L840.05,17.27 L841.44,17.41 L842.84,17.54 L844.23,17.68 L845.62,17.82 L847.02,17.96 L848.41,18.10 L849.81,18.24 L851.20,18.38 L852.60,18.52 L853.99,18.66 L855.38,18.81 L856.78,18.95 L858.17,19.10 L859.56,19.24 L860.96,19.39 L862.35,19.54 L863.74,19.69 L865.14,19.83 L866.53,19.98 L867.92,20.14 L869.32,20.29 L870.71,20.44 L872.10,20.59 L873.49,20.74 L874.89,20.90 L876.28,21.05 L877.67,21.21 L879.06,21.37 L880.46,21.52 L881.85,21.68 L883.24,21.84 L884.63,22.00 L886.02,22.16 L887.42,22.32 L888.81,22.48 L890.20,22.65 L891.59,22.81 L892.98,22.97 L894.37,23.14 L895.77,23.30 L897.16,23.47 L898.55,23.64 L899.94,23.80 L901.33,23.97 L902.72,24.14 L904.11,24.31 L905.50,24.48 L906.89,24.65 L908.28,24.82 L909.67,25.00 L911.06,25.17 L912.45,25.34 L913.84,25.52 L915.23,25.69 L916.62,25.87 L918.01,26.05 L919.40,26.23 L920.79,26.41 L922.17,26.60 L923.56,26.79 L924.95,26.98 L926.34,27.17 L927.72,27.36 L929.11,27.56 L930.49,27.77 L931.87,27.98 L933.26,28.19 L934.64,28.40 L936.02,28.62 L937.40,28.85 L938.78,29.08 L940.16,29.32 L941.53,29.56 L942.91,29.81 L944.28,30.06 L945.65,30.32 L947.03,30.59 L948.40,30.87 L949.77,31.15 L951.13,31.44 L952.50,31.73 L953.86,32.04 L955.22,32.35 L956.59,32.67 L957.94,33.00 L959.30,33.34 L960.66,33.69 L962.01,34.05 L963.36,34.42 L964.71,34.79 L966.06,35.18 L967.40,35.58 L968.75,35.99 L970.09,36.41 L971.43,36.84 L972.76,37.28 L974.10,37.73 L975.43,38.20 L976.76,38.67 L978.08,39.16 L979.41,39.67 L980.73,40.18 L982.05,40.71 L983.37,41.25 L984.68,41.81 L985.99,42.38 L987.29,42.96 L988.58,43.56 L989.86,44.19 L991.13,44.83 L992.37,45.50 L993.60,46.19 L994.79,46.91 L995.96,47.66 L997.10,48.43 L998.20,49.24 L999.26,50.09 L1000.28,50.97 L1001.26,51.88 L1002.19,52.84 L1003.07,53.83 L1003.89,54.87 L1004.66,55.96 L1005.37,57.08 L1006.01,58.25 L1006.59,59.46 L1007.10,60.72 L1007.53,62.01 L1007.89,63.35 L1008.16,64.73 L1008.35,66.15 L1008.46,67.60 L1008.48,69.10 L1008.40,70.64" fill="none" stroke="#4a4a4a" stroke-width="1.3" stroke-linejoin="round" stroke-linecap="round"/>
<path d="M1008.30,63.00 L1008.40,71.00" fill="none" stroke="#4a4a4a" stroke-width="1.6" stroke-linecap="round"/>
<path d="M1008.50,31.50 L1008.50,39.00" fill="none" stroke="#5858ff" stroke-width="1.6" stroke-linecap="round"/>
<text x="788.20" y="25.10" class="it" style="font-size:26px">c</text>
<text x="798.15" y="28.10" class="sb" style="font-size:17.5px">1</text>
<text x="790.10" y="62.50" class="it" style="font-size:27px">b</text>
<text x="787.80" y="100.30" class="it" style="font-size:26px">c</text>
<text x="798.65" y="103.55" class="sb" style="font-size:17.5px">2</text>
<text x="786.55" y="228.55" class="it" style="font-size:26px">c</text>
<text x="798.20" y="231.90" class="sb" style="font-size:17.5px">0</text>
<rect x="944.00" y="104.80" width="54.20" height="50.70" fill="#fff" stroke="#111" stroke-width="1.3"/>
<text x="955.05" y="139.90" class="tb" style="font-size:28.5px">T5</text>
<text transform="translate(984.75,313.25) scale(0.85,1)" class="tt" style="font-size:23px">t</text>
<path d="M12.40,361.30 H304.50 V652.60" fill="none" stroke="#747474" stroke-width="1.7"/>
<path d="M16.40,361.30 V657.10 M12.40,652.60 H304.50" fill="none" stroke="#747474" stroke-width="1.9"/>
<path d="M12.40,647.38H16.40M12.40,638.01H16.40M12.40,628.64H16.40M12.40,619.26H16.40M12.40,609.89H16.40M12.40,600.52H16.40M12.40,591.15H16.40M12.40,581.78H16.40M12.40,572.40H16.40M12.40,563.03H16.40M12.40,553.66H16.40M12.40,544.29H16.40M12.40,534.92H16.40M12.40,525.54H16.40M12.40,516.17H16.40M12.40,506.80H16.40M12.40,497.43H16.40M12.40,488.06H16.40M12.40,478.68H16.40M12.40,469.31H16.40M12.40,459.94H16.40M12.40,450.57H16.40M12.40,441.20H16.40M12.40,431.82H16.40M12.40,422.45H16.40M12.40,413.08H16.40M12.40,403.71H16.40M12.40,394.34H16.40M12.40,384.96H16.40M12.40,375.59H16.40M12.40,366.22H16.40M26.00,652.60V657.10M35.61,652.60V657.10M45.21,652.60V657.10M54.81,652.60V657.10M64.42,652.60V657.10M74.02,652.60V657.10M83.62,652.60V657.10M93.23,652.60V657.10M102.83,652.60V657.10M112.43,652.60V657.10M122.04,652.60V657.10M131.64,652.60V657.10M141.24,652.60V657.10M150.85,652.60V657.10M160.45,652.60V657.10M170.05,652.60V657.10M179.66,652.60V657.10M189.26,652.60V657.10M198.86,652.60V657.10M208.47,652.60V657.10M218.07,652.60V657.10M227.67,652.60V657.10M237.28,652.60V657.10M246.88,652.60V657.10M256.48,652.60V657.10M266.09,652.60V657.10M275.69,652.60V657.10M285.29,652.60V657.10M294.90,652.60V657.10M304.50,652.60V657.10" stroke="#5a5a5a" stroke-width="1.5"/>
<text transform="translate(11.40,652.68) scale(0.92,1)" class="tl" text-anchor="end">-6</text>
<text transform="translate(11.40,605.82) scale(0.92,1)" class="tl" text-anchor="end">-4</text>
<text transform="translate(11.40,558.96) scale(0.92,1)" class="tl" text-anchor="end">-2</text>
<text transform="translate(11.40,512.10) scale(0.92,1)" class="tl" text-anchor="end">0</text>
<text transform="translate(11.40,465.24) scale(0.92,1)" class="tl" text-anchor="end">2</text>
<text transform="translate(11.40,418.38) scale(0.92,1)" class="tl" text-anchor="end">4</text>
<text transform="translate(11.40,371.52) scale(0.92,1)" class="tl" text-anchor="end">6</text>
<text transform="translate(16.70,672.10) scale(0.92,1)" class="tl" text-anchor="middle">0</text>
<text transform="translate(64.72,672.10) scale(0.92,1)" class="tl" text-anchor="middle">50</text>
<text transform="translate(112.73,672.10) scale(0.92,1)" class="tl" text-anchor="middle">100</text>
<text transform="translate(160.75,672.10) scale(0.92,1)" class="tl" text-anchor="middle">150</text>
<text transform="translate(208.77,672.10) scale(0.92,1)" class="tl" text-anchor="middle">200</text>
<text transform="translate(256.78,672.10) scale(0.92,1)" class="tl" text-anchor="middle">250</text>
<text transform="translate(304.80,672.10) scale(0.92,1)" class="tl" text-anchor="middle">300</text>
<path d="M16.91,647.26 L18.38,647.10 L19.86,646.94 L21.34,646.76 L22.81,646.58 L24.28,646.38 L25.75,646.18 L27.22,645.97 L28.69,645.76 L30.15,645.53 L31.62,645.30 L33.08,645.06 L34.55,644.81 L36.01,644.55 L37.47,644.29 L38.93,644.02 L40.38,643.74 L41.84,643.45 L43.29,643.16 L44.75,642.86 L46.20,642.56 L47.65,642.25 L49.10,641.93 L50.55,641.61 L52.00,641.28 L53.45,640.94 L54.89,640.60 L56.34,640.26 L57.78,639.90 L59.23,639.55 L60.67,639.19 L62.11,638.82 L63.55,638.45 L64.99,638.08 L66.43,637.70 L67.87,637.31 L69.30,636.92 L70.74,636.53 L72.17,636.14 L73.61,635.74 L75.04,635.34 L76.47,634.93 L77.90,634.52 L79.34,634.11 L80.77,633.70 L82.20,633.28 L83.62,632.86 L85.05,632.44 L86.48,632.01 L87.91,631.58 L89.33,631.16 L90.76,630.72 L92.19,630.29 L93.61,629.86 L95.03,629.42 L96.46,628.99 L97.88,628.55 L99.30,628.11 L100.73,627.67 L102.15,627.23 L103.57,626.79 L104.99,626.34 L106.41,625.90 L107.83,625.45 L109.24,625.00 L110.66,624.55 L112.08,624.10 L113.49,623.64 L114.91,623.19 L116.32,622.73 L117.74,622.27 L119.15,621.81 L120.56,621.35 L121.97,620.88 L123.38,620.41 L124.79,619.94 L126.20,619.47 L127.61,618.99 L129.01,618.51 L130.42,618.03 L131.82,617.55 L133.23,617.06 L134.63,616.58 L136.03,616.08 L137.43,615.59 L138.83,615.09 L140.22,614.59 L141.62,614.09 L143.01,613.59 L144.41,613.08 L145.80,612.56 L147.19,612.05 L148.58,611.53 L149.97,611.01 L151.36,610.48 L152.74,609.95 L154.13,609.42 L155.51,608.89 L156.89,608.35 L158.27,607.80 L159.65,607.26 L161.03,606.70 L162.40,606.15 L163.78,605.59 L165.15,605.03 L166.52,604.46 L167.89,603.89 L169.26,603.31 L170.63,602.73 L171.99,602.15 L173.35,601.56 L174.72,600.97 L176.07,600.38 L177.43,599.77 L178.79,599.17 L180.14,598.56 L181.50,597.95 L182.85,597.34 L184.20,596.72 L185.55,596.09 L186.89,595.47 L188.24,594.83 L189.58,594.20 L190.93,593.56 L192.27,592.92 L193.61,592.28 L194.94,591.63 L196.28,590.97 L197.61,590.32 L198.95,589.66 L200.28,589.00 L201.61,588.33 L202.94,587.66 L204.26,586.99 L205.59,586.32 L206.91,585.64 L208.24,584.96 L209.56,584.27 L210.88,583.59 L212.19,582.90 L213.51,582.20 L214.83,581.51 L216.14,580.81 L217.45,580.11 L218.76,579.40 L220.07,578.70 L221.38,577.99 L222.68,577.28 L223.99,576.56 L225.29,575.84 L226.60,575.12 L227.90,574.40 L229.20,573.68 L230.49,572.95 L231.79,572.22 L233.08,571.49 L234.38,570.76 L235.67,570.02 L236.96,569.28 L238.25,568.54 L239.54,567.80 L240.82,567.06 L242.11,566.31 L243.39,565.56 L244.67,564.80 L245.95,564.04 L247.23,563.28 L248.50,562.52 L249.77,561.75 L251.04,560.98 L252.31,560.20 L253.57,559.41 L254.83,558.63 L256.08,557.84 L257.34,557.04 L258.59,556.23 L259.83,555.43 L261.08,554.61 L262.32,553.79 L263.55,552.96 L264.78,552.13 L266.01,551.29 L267.23,550.44 L268.45,549.59 L269.67,548.73 L270.88,547.86 L272.08,546.98 L273.28,546.10 L274.48,545.21 L275.67,544.31 L276.85,543.40 L278.03,542.48 L279.20,541.55 L280.37,540.62 L281.53,539.67 L282.69,538.72 L283.84,537.75 L284.99,536.78 L286.12,535.79 L287.25,534.80 L288.37,533.79 L289.46,532.76 L290.55,531.72 L291.61,530.67 L292.64,529.60 L293.65,528.50 L294.64,527.39 L295.59,526.26 L296.50,525.10 L297.39,523.93 L298.23,522.72 L299.03,521.50 L299.78,520.24 L300.49,518.96 L301.15,517.65 L301.76,516.30 L302.31,514.93 L302.81,513.52 L303.25,512.08 L303.62,510.61" fill="none" stroke="#ff535d" stroke-width="1.6" stroke-linejoin="round" stroke-linecap="round"/>
<path d="M16.89,366.42 L18.26,366.45 L19.63,366.48 L21.01,366.51 L22.38,366.54 L23.75,366.57 L25.12,366.60 L26.49,366.63 L27.86,366.66 L29.24,366.70 L30.61,366.74 L31.98,366.77 L33.35,366.81 L34.72,366.85 L36.09,366.89 L37.46,366.93 L38.83,366.98 L40.20,367.02 L41.57,367.07 L42.94,367.11 L44.31,367.16 L45.68,367.21 L47.04,367.26 L48.41,367.31 L49.78,367.37 L51.15,367.42 L52.52,367.48 L53.89,367.53 L55.25,367.59 L56.62,367.65 L57.99,367.71 L59.36,367.77 L60.72,367.84 L62.09,367.90 L63.46,367.97 L64.83,368.03 L66.19,368.10 L67.56,368.17 L68.92,368.25 L70.29,368.32 L71.66,368.39 L73.02,368.47 L74.39,368.55 L75.75,368.63 L77.12,368.71 L78.48,368.79 L79.85,368.87 L81.21,368.96 L82.58,369.04 L83.94,369.13 L85.30,369.22 L86.67,369.31 L88.03,369.40 L89.39,369.50 L90.76,369.59 L92.12,369.69 L93.48,369.79 L94.85,369.89 L96.21,369.99 L97.57,370.09 L98.93,370.20 L100.29,370.31 L101.66,370.42 L103.02,370.53 L104.38,370.64 L105.74,370.75 L107.10,370.87 L108.46,370.98 L109.82,371.10 L111.18,371.22 L112.54,371.34 L113.90,371.47 L115.26,371.59 L116.62,371.72 L117.98,371.85 L119.34,371.98 L120.70,372.11 L122.05,372.25 L123.41,372.38 L124.77,372.52 L126.13,372.66 L127.49,372.80 L128.84,372.95 L130.20,373.09 L131.56,373.24 L132.92,373.39 L134.27,373.54 L135.63,373.69 L136.98,373.84 L138.34,374.00 L139.70,374.16 L141.05,374.32 L142.41,374.48 L143.76,374.65 L145.12,374.81 L146.47,374.98 L147.83,375.15 L149.18,375.32 L150.54,375.50 L151.89,375.67 L153.24,375.85 L154.60,376.03 L155.95,376.22 L157.30,376.40 L158.65,376.59 L160.01,376.77 L161.36,376.97 L162.71,377.16 L164.06,377.35 L165.41,377.55 L166.77,377.75 L168.12,377.95 L169.47,378.15 L170.82,378.36 L172.17,378.57 L173.52,378.78 L174.87,378.99 L176.22,379.20 L177.57,379.42 L178.92,379.64 L180.27,379.86 L181.61,380.08 L182.96,380.31 L184.31,380.53 L185.66,380.76 L187.01,380.99 L188.35,381.23 L189.70,381.47 L191.05,381.70 L192.40,381.95 L193.74,382.19 L195.09,382.43 L196.43,382.68 L197.78,382.93 L199.13,383.19 L200.47,383.44 L201.82,383.70 L203.16,383.96 L204.51,384.22 L205.85,384.49 L207.19,384.75 L208.54,385.02 L209.88,385.29 L211.22,385.57 L212.57,385.85 L213.91,386.13 L215.25,386.41 L216.60,386.69 L217.94,386.98 L219.28,387.27 L220.62,387.56 L221.96,387.85 L223.30,388.15 L224.64,388.45 L225.98,388.75 L227.32,389.06 L228.66,389.36 L230.00,389.67 L231.34,389.99 L232.68,390.30 L234.02,390.62 L235.36,390.94 L236.69,391.27 L238.03,391.60 L239.36,391.94 L240.69,392.28 L242.03,392.62 L243.35,392.97 L244.68,393.32 L246.01,393.68 L247.33,394.05 L248.65,394.42 L249.97,394.80 L251.29,395.18 L252.60,395.57 L253.91,395.97 L255.22,396.38 L256.53,396.79 L257.83,397.21 L259.13,397.64 L260.42,398.08 L261.71,398.52 L263.00,398.98 L264.28,399.44 L265.56,399.91 L266.84,400.39 L268.11,400.88 L269.38,401.38 L270.64,401.89 L271.90,402.42 L273.15,402.95 L274.40,403.49 L275.64,404.04 L276.88,404.61 L278.11,405.19 L279.34,405.77 L280.56,406.37 L281.77,406.99 L282.98,407.62 L284.18,408.26 L285.36,408.92 L286.54,409.59 L287.70,410.29 L288.85,411.00 L289.98,411.73 L291.09,412.49 L292.18,413.27 L293.26,414.07 L294.31,414.90 L295.34,415.75 L296.35,416.63 L297.33,417.54 L298.29,418.47 L299.21,419.44 L300.11,420.44 L300.98,421.47 L301.81,422.54 L302.62,423.63 L303.38,424.77 L304.11,425.94" fill="none" stroke="#5858ff" stroke-width="1.6" stroke-linejoin="round" stroke-linecap="round"/>
<path d="M16.90,498.43 L18.21,498.36 L19.53,498.30 L20.84,498.23 L22.15,498.16 L23.46,498.08 L24.77,498.01 L26.08,497.94 L27.40,497.86 L28.71,497.78 L30.02,497.70 L31.33,497.62 L32.64,497.54 L33.95,497.46 L35.26,497.38 L36.57,497.29 L37.88,497.21 L39.19,497.12 L40.51,497.03 L41.82,496.94 L43.13,496.85 L44.44,496.76 L45.75,496.67 L47.06,496.58 L48.37,496.49 L49.68,496.39 L50.99,496.30 L52.30,496.20 L53.61,496.11 L54.92,496.01 L56.23,495.91 L57.54,495.81 L58.85,495.71 L60.16,495.61 L61.47,495.51 L62.78,495.41 L64.09,495.31 L65.40,495.21 L66.71,495.10 L68.02,495.00 L69.33,494.90 L70.64,494.79 L71.95,494.69 L73.25,494.58 L74.56,494.48 L75.87,494.37 L77.18,494.26 L78.49,494.16 L79.80,494.05 L81.11,493.95 L82.42,493.84 L83.73,493.73 L85.04,493.62 L86.35,493.52 L87.66,493.41 L88.97,493.30 L90.28,493.20 L91.59,493.09 L92.89,492.98 L94.20,492.87 L95.51,492.77 L96.82,492.66 L98.13,492.55 L99.44,492.44 L100.75,492.34 L102.06,492.23 L103.37,492.13 L104.68,492.02 L105.99,491.91 L107.30,491.81 L108.61,491.70 L109.91,491.60 L111.22,491.49 L112.53,491.39 L113.84,491.29 L115.15,491.18 L116.46,491.08 L117.77,490.98 L119.08,490.88 L120.39,490.78 L121.70,490.68 L123.01,490.58 L124.32,490.48 L125.63,490.38 L126.94,490.28 L128.25,490.19 L129.56,490.09 L130.87,490.00 L132.18,489.90 L133.49,489.81 L134.80,489.72 L136.11,489.62 L137.42,489.53 L138.73,489.44 L140.04,489.35 L141.35,489.27 L142.66,489.18 L143.97,489.09 L145.28,489.01 L146.59,488.93 L147.90,488.84 L149.21,488.76 L150.52,488.68 L151.83,488.60 L153.14,488.53 L154.45,488.45 L155.76,488.37 L157.07,488.30 L158.38,488.23 L159.70,488.16 L161.01,488.09 L162.32,488.02 L163.63,487.95 L164.94,487.89 L166.25,487.83 L167.56,487.76 L168.88,487.70 L170.19,487.64 L171.50,487.59 L172.81,487.53 L174.12,487.48 L175.44,487.42 L176.75,487.37 L178.06,487.32 L179.37,487.27 L180.69,487.22 L182.00,487.17 L183.31,487.13 L184.62,487.08 L185.94,487.04 L187.25,486.99 L188.56,486.95 L189.88,486.91 L191.19,486.87 L192.50,486.82 L193.82,486.78 L195.13,486.74 L196.44,486.70 L197.76,486.66 L199.07,486.62 L200.39,486.58 L201.70,486.54 L203.02,486.50 L204.33,486.47 L205.65,486.43 L206.96,486.39 L208.28,486.35 L209.59,486.31 L210.91,486.27 L212.22,486.23 L213.54,486.19 L214.86,486.15 L216.17,486.11 L217.49,486.07 L218.80,486.03 L220.12,485.99 L221.44,485.95 L222.75,485.91 L224.07,485.87 L225.39,485.83 L226.70,485.80 L228.02,485.76 L229.34,485.73 L230.65,485.69 L231.97,485.66 L233.29,485.62 L234.60,485.59 L235.92,485.56 L237.24,485.53 L238.55,485.50 L239.87,485.48 L241.19,485.45 L242.50,485.42 L243.82,485.40 L245.14,485.38 L246.45,485.36 L247.77,485.34 L249.08,485.32 L250.40,485.31 L251.71,485.30 L253.03,485.29 L254.35,485.28 L255.66,485.27 L256.98,485.26 L258.29,485.26 L259.61,485.26 L260.92,485.26 L262.23,485.26 L263.55,485.27 L264.86,485.28 L266.17,485.29 L267.49,485.31 L268.80,485.32 L270.11,485.35 L271.43,485.37 L272.74,485.40 L274.05,485.44 L275.36,485.47 L276.67,485.52 L277.98,485.56 L279.29,485.62 L280.60,485.67 L281.90,485.74 L283.21,485.81 L284.52,485.88 L285.82,485.96 L287.13,486.04 L288.43,486.14 L289.74,486.24 L291.04,486.34 L292.34,486.45 L293.64,486.57 L294.94,486.70 L296.24,486.83 L297.54,486.97 L298.84,487.12 L300.13,487.28 L301.43,487.44 L302.72,487.62 L304.02,487.80" fill="none" stroke="#6e6ed0" stroke-width="1.3" stroke-linejoin="round" stroke-linecap="round"/>
<path d="M16.90,482.83 L18.21,482.93 L19.52,483.02 L20.83,483.11 L22.14,483.20 L23.45,483.29 L24.76,483.37 L26.07,483.46 L27.38,483.54 L28.69,483.62 L30.00,483.69 L31.31,483.77 L32.62,483.84 L33.93,483.91 L35.24,483.98 L36.55,484.05 L37.86,484.11 L39.17,484.18 L40.49,484.24 L41.80,484.30 L43.11,484.36 L44.42,484.42 L45.73,484.47 L47.04,484.52 L48.35,484.58 L49.66,484.63 L50.98,484.68 L52.29,484.73 L53.60,484.77 L54.91,484.82 L56.22,484.86 L57.54,484.90 L58.85,484.94 L60.16,484.98 L61.47,485.02 L62.78,485.06 L64.10,485.10 L65.41,485.13 L66.72,485.17 L68.03,485.20 L69.34,485.23 L70.66,485.26 L71.97,485.29 L73.28,485.32 L74.59,485.35 L75.91,485.38 L77.22,485.40 L78.53,485.43 L79.84,485.45 L81.16,485.48 L82.47,485.50 L83.78,485.52 L85.10,485.55 L86.41,485.57 L87.72,485.59 L89.03,485.61 L90.35,485.63 L91.66,485.65 L92.97,485.67 L94.29,485.68 L95.60,485.70 L96.91,485.72 L98.22,485.74 L99.54,485.75 L100.85,485.77 L102.16,485.78 L103.48,485.80 L104.79,485.82 L106.10,485.83 L107.42,485.85 L108.73,485.86 L110.04,485.88 L111.36,485.89 L112.67,485.91 L113.98,485.92 L115.30,485.94 L116.61,485.95 L117.92,485.97 L119.24,485.98 L120.55,486.00 L121.86,486.02 L123.18,486.03 L124.49,486.05 L125.80,486.06 L127.12,486.08 L128.43,486.10 L129.74,486.12 L131.05,486.14 L132.37,486.15 L133.68,486.17 L134.99,486.19 L136.31,486.21 L137.62,486.23 L138.93,486.25 L140.25,486.28 L141.56,486.30 L142.87,486.32 L144.19,486.35 L145.50,486.37 L146.81,486.40 L148.13,486.42 L149.44,486.45 L150.75,486.48 L152.06,486.51 L153.38,486.53 L154.69,486.56 L156.00,486.59 L157.32,486.63 L158.63,486.66 L159.94,486.69 L161.26,486.72 L162.57,486.76 L163.88,486.79 L165.19,486.83 L166.51,486.86 L167.82,486.90 L169.13,486.93 L170.45,486.97 L171.76,487.01 L173.07,487.05 L174.38,487.09 L175.70,487.13 L177.01,487.17 L178.32,487.21 L179.63,487.25 L180.95,487.30 L182.26,487.34 L183.57,487.39 L184.89,487.43 L186.20,487.48 L187.51,487.52 L188.82,487.57 L190.14,487.62 L191.45,487.66 L192.76,487.71 L194.07,487.76 L195.39,487.81 L196.70,487.86 L198.01,487.91 L199.32,487.96 L200.64,488.02 L201.95,488.07 L203.26,488.12 L204.57,488.18 L205.88,488.23 L207.20,488.29 L208.51,488.34 L209.82,488.40 L211.13,488.45 L212.45,488.51 L213.76,488.57 L215.07,488.63 L216.38,488.69 L217.69,488.75 L219.01,488.81 L220.32,488.87 L221.63,488.93 L222.94,488.99 L224.26,489.06 L225.57,489.12 L226.88,489.18 L228.19,489.25 L229.50,489.31 L230.82,489.38 L232.13,489.44 L233.44,489.51 L234.75,489.58 L236.06,489.64 L237.37,489.71 L238.69,489.78 L240.00,489.85 L241.31,489.92 L242.62,490.00 L243.93,490.07 L245.24,490.14 L246.55,490.22 L247.87,490.30 L249.18,490.37 L250.49,490.45 L251.80,490.53 L253.11,490.61 L254.42,490.69 L255.73,490.77 L257.04,490.86 L258.35,490.94 L259.66,491.03 L260.97,491.12 L262.28,491.20 L263.59,491.29 L264.89,491.38 L266.20,491.48 L267.51,491.57 L268.82,491.67 L270.13,491.76 L271.43,491.86 L272.74,491.96 L274.05,492.06 L275.36,492.17 L276.66,492.27 L277.97,492.38 L279.27,492.49 L280.58,492.60 L281.89,492.71 L283.19,492.82 L284.50,492.94 L285.80,493.05 L287.10,493.17 L288.41,493.29 L289.71,493.42 L291.01,493.54 L292.32,493.67 L293.62,493.80 L294.92,493.93 L296.22,494.06 L297.52,494.19 L298.83,494.33 L300.13,494.47 L301.43,494.61 L302.73,494.76 L304.02,494.90" fill="none" stroke="#4a4a4a" stroke-width="1.3" stroke-linejoin="round" stroke-linecap="round"/>
<text x="141.45" y="395.65" class="it" style="font-size:26px">2</text>
<text x="154.65" y="395.95" class="it" style="font-size:27px">b</text>
<text x="43.45" y="476.00" class="it" style="font-size:26px">a</text>
<text x="36.95" y="506.45" class="it" style="font-size:27px">φ</text>
<text x="49.75" y="509.70" class="sb" style="font-size:17.5px">1</text>
<text x="159.60" y="587.40" class="it" style="font-size:27px">φ</text>
<rect x="236.50" y="589.70" width="54.80" height="50.80" fill="#fff" stroke="#111" stroke-width="1.3"/>
<text x="247.70" y="624.60" class="tb" style="font-size:28.5px">T3</text>
<text transform="translate(281.20,668.15) scale(0.85,1)" class="tt" style="font-size:23px">t</text>
<path d="M366.20,362.30 H657.30 V654.00" fill="none" stroke="#747474" stroke-width="1.7"/>
<path d="M370.20,362.30 V658.50 M366.20,654.00 H657.30" fill="none" stroke="#747474" stroke-width="1.9"/>
<path d="M366.20,648.50H370.20M366.20,635.72H370.20M366.20,622.94H370.20M366.20,610.16H370.20M366.20,597.38H370.20M366.20,584.60H370.20M366.20,571.82H370.20M366.20,559.04H370.20M366.20,546.26H370.20M366.20,533.48H370.20M366.20,520.70H370.20M366.20,507.92H370.20M366.20,495.14H370.20M366.20,482.36H370.20M366.20,469.58H370.20M366.20,456.80H370.20M366.20,444.02H370.20M366.20,431.24H370.20M366.20,418.46H370.20M366.20,405.68H370.20M366.20,392.90H370.20M366.20,380.12H370.20M366.20,367.34H370.20M379.77,654.00V658.50M389.34,654.00V658.50M398.91,654.00V658.50M408.48,654.00V658.50M418.05,654.00V658.50M427.62,654.00V658.50M437.19,654.00V658.50M446.76,654.00V658.50M456.33,654.00V658.50M465.90,654.00V658.50M475.47,654.00V658.50M485.04,654.00V658.50M494.61,654.00V658.50M504.18,654.00V658.50M513.75,654.00V658.50M523.32,654.00V658.50M532.89,654.00V658.50M542.46,654.00V658.50M552.03,654.00V658.50M561.60,654.00V658.50M571.17,654.00V658.50M580.74,654.00V658.50M590.31,654.00V658.50M599.88,654.00V658.50M609.45,654.00V658.50M619.02,654.00V658.50M628.59,654.00V658.50M638.16,654.00V658.50M647.73,654.00V658.50M657.30,654.00V658.50" stroke="#5a5a5a" stroke-width="1.5"/>
<text transform="translate(365.20,653.80) scale(0.92,1)" class="tl" text-anchor="end">-1</text>
<text transform="translate(365.20,589.90) scale(0.92,1)" class="tl" text-anchor="end">0</text>
<text transform="translate(365.20,526.00) scale(0.92,1)" class="tl" text-anchor="end">1</text>
<text transform="translate(365.20,462.10) scale(0.92,1)" class="tl" text-anchor="end">2</text>
<text transform="translate(365.20,398.20) scale(0.92,1)" class="tl" text-anchor="end">3</text>
<text transform="translate(370.50,673.50) scale(0.92,1)" class="tl" text-anchor="middle">0</text>
<text transform="translate(418.35,673.50) scale(0.92,1)" class="tl" text-anchor="middle">50</text>
<text transform="translate(466.20,673.50) scale(0.92,1)" class="tl" text-anchor="middle">100</text>
<text transform="translate(514.05,673.50) scale(0.92,1)" class="tl" text-anchor="middle">150</text>
<text transform="translate(561.90,673.50) scale(0.92,1)" class="tl" text-anchor="middle">200</text>
<text transform="translate(609.75,673.50) scale(0.92,1)" class="tl" text-anchor="middle">250</text>
<text transform="translate(657.60,673.50) scale(0.92,1)" class="tl" text-anchor="middle">300</text>
<path d="M370.20,367.60H657.30" stroke="#5858ff" stroke-width="1.6"/>
<path d="M370.89,647.94 L372.17,647.47 L373.46,646.99 L374.74,646.52 L376.03,646.04 L377.31,645.57 L378.60,645.10 L379.89,644.63 L381.17,644.15 L382.46,643.68 L383.75,643.21 L385.04,642.74 L386.33,642.27 L387.62,641.80 L388.91,641.33 L390.20,640.87 L391.49,640.40 L392.78,639.93 L394.07,639.46 L395.36,639.00 L396.65,638.53 L397.94,638.07 L399.24,637.60 L400.53,637.14 L401.82,636.68 L403.12,636.22 L404.41,635.75 L405.71,635.29 L407.00,634.83 L408.30,634.37 L409.59,633.91 L410.89,633.46 L412.18,633.00 L413.48,632.54 L414.78,632.08 L416.07,631.63 L417.37,631.17 L418.67,630.72 L419.97,630.26 L421.27,629.81 L422.57,629.36 L423.87,628.91 L425.16,628.46 L426.46,628.01 L427.77,627.56 L429.07,627.11 L430.37,626.66 L431.67,626.21 L432.97,625.77 L434.27,625.32 L435.57,624.87 L436.88,624.43 L438.18,623.99 L439.48,623.54 L440.79,623.10 L442.09,622.66 L443.39,622.22 L444.70,621.78 L446.00,621.34 L447.31,620.91 L448.61,620.47 L449.92,620.03 L451.22,619.60 L452.53,619.16 L453.84,618.73 L455.14,618.30 L456.45,617.86 L457.76,617.43 L459.07,617.00 L460.37,616.57 L461.68,616.15 L462.99,615.72 L464.30,615.29 L465.61,614.87 L466.92,614.44 L468.23,614.02 L469.53,613.60 L470.84,613.17 L472.15,612.75 L473.46,612.33 L474.78,611.91 L476.09,611.50 L477.40,611.08 L478.71,610.66 L480.02,610.25 L481.33,609.83 L482.64,609.42 L483.96,609.01 L485.27,608.60 L486.58,608.19 L487.89,607.78 L489.21,607.37 L490.52,606.96 L491.84,606.56 L493.15,606.15 L494.46,605.75 L495.78,605.35 L497.09,604.95 L498.41,604.54 L499.72,604.15 L501.04,603.75 L502.35,603.35 L503.67,602.95 L504.98,602.56 L506.30,602.16 L507.62,601.77 L508.93,601.38 L510.25,600.99 L511.56,600.60 L512.88,600.21 L514.20,599.82 L515.52,599.44 L516.83,599.05 L518.15,598.67 L519.47,598.29 L520.79,597.91 L522.11,597.53 L523.42,597.15 L524.74,596.77 L526.06,596.39 L527.38,596.02 L528.70,595.64 L530.02,595.27 L531.34,594.90 L532.66,594.53 L533.98,594.16 L535.30,593.79 L536.62,593.43 L537.94,593.06 L539.26,592.70 L540.58,592.34 L541.90,591.97 L543.22,591.61 L544.54,591.25 L545.86,590.90 L547.18,590.54 L548.50,590.19 L549.82,589.83 L551.14,589.48 L552.46,589.13 L553.79,588.78 L555.11,588.43 L556.43,588.09 L557.75,587.74 L559.08,587.40 L560.40,587.06 L561.72,586.72 L563.05,586.38 L564.37,586.04 L565.70,585.70 L567.02,585.37 L568.35,585.04 L569.68,584.71 L571.01,584.38 L572.33,584.05 L573.66,583.73 L574.99,583.41 L576.33,583.08 L577.66,582.77 L578.99,582.45 L580.33,582.13 L581.66,581.82 L583.00,581.51 L584.34,581.20 L585.67,580.90 L587.01,580.59 L588.36,580.29 L589.70,579.99 L591.04,579.69 L592.39,579.40 L593.74,579.10 L595.08,578.81 L596.43,578.53 L597.79,578.24 L599.14,577.96 L600.49,577.68 L601.85,577.40 L603.21,577.12 L604.57,576.85 L605.93,576.58 L607.29,576.31 L608.66,576.05 L610.03,575.78 L611.40,575.53 L612.77,575.27 L614.14,575.01 L615.52,574.76 L616.90,574.52 L618.28,574.27 L619.66,574.03 L621.04,573.79 L622.43,573.56 L623.82,573.33 L625.20,573.12 L626.59,572.92 L627.98,572.73 L629.37,572.57 L630.75,572.42 L632.14,572.29 L633.52,572.19 L634.90,572.12 L636.28,572.08 L637.65,572.06 L639.02,572.09 L640.38,572.15 L641.74,572.24 L643.09,572.38 L644.44,572.56 L645.78,572.79 L647.12,573.07 L648.43,573.40 L649.72,573.81 L650.96,574.29 L652.13,574.87 L653.23,575.55 L654.24,576.35 L655.14,577.28 L655.92,578.36 L656.55,579.58 L657.04,580.98" fill="none" stroke="#ff535d" stroke-width="1.6" stroke-linejoin="round" stroke-linecap="round"/>
<path d="M370.20,547.00 L371.51,547.00 L372.82,547.00 L374.14,547.00 L375.45,547.00 L376.76,547.00 L378.07,547.00 L379.38,547.00 L380.70,547.00 L382.01,547.00 L383.32,547.00 L384.63,547.00 L385.94,547.00 L387.25,547.00 L388.57,547.01 L389.88,547.01 L391.19,547.01 L392.50,547.01 L393.81,547.02 L395.12,547.02 L396.44,547.02 L397.75,547.03 L399.06,547.03 L400.37,547.03 L401.68,547.04 L402.99,547.04 L404.31,547.05 L405.62,547.05 L406.93,547.06 L408.24,547.06 L409.55,547.07 L410.86,547.07 L412.18,547.08 L413.49,547.08 L414.80,547.09 L416.11,547.10 L417.42,547.10 L418.73,547.11 L420.05,547.12 L421.36,547.12 L422.67,547.13 L423.98,547.14 L425.29,547.15 L426.60,547.15 L427.91,547.16 L429.23,547.17 L430.54,547.18 L431.85,547.19 L433.16,547.20 L434.47,547.21 L435.78,547.22 L437.10,547.22 L438.41,547.23 L439.72,547.24 L441.03,547.25 L442.34,547.26 L443.65,547.27 L444.96,547.29 L446.28,547.30 L447.59,547.31 L448.90,547.32 L450.21,547.33 L451.52,547.34 L452.83,547.35 L454.14,547.36 L455.46,547.38 L456.77,547.39 L458.08,547.40 L459.39,547.41 L460.70,547.43 L462.01,547.44 L463.32,547.45 L464.64,547.46 L465.95,547.48 L467.26,547.49 L468.57,547.51 L469.88,547.52 L471.19,547.53 L472.50,547.55 L473.82,547.56 L475.13,547.58 L476.44,547.59 L477.75,547.61 L479.06,547.62 L480.37,547.64 L481.68,547.65 L483.00,547.67 L484.31,547.68 L485.62,547.70 L486.93,547.71 L488.24,547.73 L489.55,547.74 L490.87,547.76 L492.18,547.78 L493.49,547.79 L494.80,547.81 L496.11,547.83 L497.42,547.84 L498.73,547.86 L500.05,547.88 L501.36,547.90 L502.67,547.91 L503.98,547.93 L505.29,547.95 L506.60,547.97 L507.91,547.99 L509.23,548.00 L510.54,548.02 L511.85,548.04 L513.16,548.06 L514.47,548.08 L515.78,548.10 L517.10,548.12 L518.41,548.13 L519.72,548.15 L521.03,548.17 L522.34,548.19 L523.65,548.21 L524.97,548.23 L526.28,548.25 L527.59,548.27 L528.90,548.29 L530.21,548.31 L531.52,548.33 L532.84,548.35 L534.15,548.37 L535.46,548.39 L536.77,548.41 L538.08,548.44 L539.39,548.46 L540.71,548.48 L542.02,548.50 L543.33,548.52 L544.64,548.54 L545.95,548.56 L547.26,548.58 L548.58,548.61 L549.89,548.63 L551.20,548.65 L552.51,548.67 L553.82,548.69 L555.14,548.72 L556.45,548.74 L557.76,548.76 L559.07,548.78 L560.38,548.81 L561.70,548.83 L563.01,548.85 L564.32,548.87 L565.63,548.90 L566.94,548.92 L568.26,548.94 L569.57,548.97 L570.88,548.99 L572.19,549.01 L573.50,549.04 L574.82,549.06 L576.13,549.08 L577.44,549.11 L578.75,549.13 L580.06,549.15 L581.38,549.18 L582.69,549.20 L584.00,549.23 L585.31,549.25 L586.63,549.28 L587.94,549.30 L589.25,549.32 L590.56,549.35 L591.87,549.37 L593.19,549.40 L594.50,549.42 L595.81,549.45 L597.12,549.47 L598.44,549.50 L599.75,549.52 L601.06,549.55 L602.37,549.57 L603.69,549.60 L605.00,549.62 L606.31,549.65 L607.62,549.67 L608.94,549.69 L610.25,549.71 L611.56,549.74 L612.87,549.76 L614.18,549.77 L615.49,549.79 L616.80,549.81 L618.12,549.82 L619.43,549.83 L620.74,549.85 L622.05,549.85 L623.36,549.86 L624.66,549.87 L625.97,549.87 L627.28,549.87 L628.59,549.86 L629.90,549.86 L631.20,549.85 L632.51,549.84 L633.82,549.82 L635.12,549.81 L636.43,549.78 L637.73,549.76 L639.03,549.72 L640.34,549.67 L641.64,549.61 L642.94,549.53 L644.24,549.43 L645.53,549.31 L646.83,549.19 L648.13,549.07 L649.43,548.95 L650.74,548.83 L652.04,548.73 L653.35,548.65 L654.66,548.60 L655.98,548.58 L657.30,548.60" fill="none" stroke="#6e6ed0" stroke-width="1.3" stroke-linejoin="round" stroke-linecap="round"/>
<path d="M370.89,533.22 L372.23,533.33 L373.57,533.45 L374.90,533.57 L376.24,533.68 L377.57,533.80 L378.91,533.92 L380.25,534.04 L381.58,534.16 L382.92,534.28 L384.25,534.40 L385.59,534.52 L386.92,534.64 L388.26,534.76 L389.59,534.88 L390.93,535.00 L392.26,535.13 L393.59,535.25 L394.93,535.38 L396.26,535.50 L397.59,535.63 L398.93,535.75 L400.26,535.88 L401.59,536.01 L402.93,536.13 L404.26,536.26 L405.59,536.39 L406.92,536.52 L408.26,536.65 L409.59,536.78 L410.92,536.91 L412.25,537.04 L413.58,537.18 L414.92,537.31 L416.25,537.44 L417.58,537.58 L418.91,537.71 L420.24,537.85 L421.57,537.98 L422.90,538.12 L424.23,538.25 L425.56,538.39 L426.89,538.53 L428.22,538.67 L429.55,538.80 L430.88,538.94 L432.21,539.08 L433.54,539.22 L434.87,539.36 L436.20,539.51 L437.53,539.65 L438.86,539.79 L440.19,539.93 L441.52,540.08 L442.85,540.22 L444.18,540.37 L445.51,540.51 L446.84,540.66 L448.17,540.80 L449.49,540.95 L450.82,541.10 L452.15,541.25 L453.48,541.39 L454.81,541.54 L456.14,541.69 L457.46,541.84 L458.79,541.99 L460.12,542.15 L461.45,542.30 L462.78,542.45 L464.10,542.60 L465.43,542.76 L466.76,542.91 L468.09,543.06 L469.42,543.22 L470.74,543.37 L472.07,543.53 L473.40,543.69 L474.72,543.85 L476.05,544.00 L477.38,544.16 L478.71,544.32 L480.03,544.48 L481.36,544.64 L482.69,544.80 L484.01,544.96 L485.34,545.12 L486.67,545.29 L488.00,545.45 L489.32,545.61 L490.65,545.77 L491.98,545.94 L493.30,546.10 L494.63,546.27 L495.96,546.44 L497.28,546.60 L498.61,546.77 L499.94,546.94 L501.26,547.11 L502.59,547.27 L503.92,547.44 L505.24,547.61 L506.57,547.78 L507.90,547.95 L509.22,548.13 L510.55,548.30 L511.88,548.47 L513.20,548.64 L514.53,548.82 L515.86,548.99 L517.18,549.17 L518.51,549.34 L519.83,549.52 L521.16,549.69 L522.49,549.87 L523.81,550.05 L525.14,550.23 L526.47,550.40 L527.79,550.58 L529.12,550.76 L530.45,550.94 L531.77,551.12 L533.10,551.31 L534.43,551.49 L535.75,551.67 L537.08,551.85 L538.41,552.04 L539.73,552.22 L541.06,552.40 L542.39,552.59 L543.72,552.78 L545.04,552.96 L546.37,553.15 L547.70,553.34 L549.02,553.52 L550.35,553.71 L551.68,553.90 L553.00,554.09 L554.33,554.28 L555.66,554.47 L556.99,554.66 L558.31,554.86 L559.64,555.05 L560.97,555.25 L562.29,555.44 L563.62,555.64 L564.95,555.84 L566.27,556.04 L567.60,556.24 L568.92,556.45 L570.25,556.65 L571.57,556.86 L572.90,557.07 L574.22,557.28 L575.54,557.50 L576.87,557.71 L578.19,557.93 L579.51,558.15 L580.83,558.37 L582.15,558.60 L583.47,558.83 L584.79,559.06 L586.11,559.29 L587.43,559.53 L588.75,559.77 L590.07,560.01 L591.38,560.26 L592.70,560.51 L594.01,560.76 L595.33,561.01 L596.64,561.27 L597.95,561.54 L599.26,561.80 L600.57,562.07 L601.88,562.35 L603.19,562.63 L604.50,562.91 L605.80,563.19 L607.11,563.49 L608.41,563.78 L609.71,564.08 L611.02,564.38 L612.32,564.69 L613.62,565.00 L614.91,565.32 L616.21,565.64 L617.51,565.97 L618.80,566.30 L620.09,566.64 L621.39,566.98 L622.68,567.33 L623.97,567.68 L625.25,568.04 L626.54,568.41 L627.82,568.78 L629.11,569.15 L630.39,569.53 L631.67,569.92 L632.94,570.32 L634.21,570.72 L635.48,571.14 L636.74,571.57 L637.99,572.01 L639.24,572.47 L640.47,572.95 L641.70,573.44 L642.91,573.95 L644.12,574.49 L645.31,575.04 L646.49,575.62 L647.66,576.22 L648.81,576.84 L649.95,577.49 L651.06,578.17 L652.17,578.88 L653.25,579.63 L654.31,580.40 L655.36,581.20 L656.38,582.04 L657.38,582.92" fill="none" stroke="#4a4a4a" stroke-width="1.3" stroke-linejoin="round" stroke-linecap="round"/>
<text x="496.95" y="387.00" class="it" style="font-size:26px">2</text>
<text x="510.50" y="387.75" class="it" style="font-size:27px">b</text>
<text x="389.20" y="527.30" class="it" style="font-size:26px">a</text>
<text x="590.50" y="532.25" class="it" style="font-size:27px">φ</text>
<text x="603.45" y="536.20" class="sb" style="font-size:17.5px">1</text>
<text x="450.30" y="599.85" class="it" style="font-size:27px">φ</text>
<rect x="593.30" y="390.40" width="54.80" height="51.10" fill="#fff" stroke="#111" stroke-width="1.3"/>
<text x="605.15" y="425.65" class="tb" style="font-size:28.5px">T4</text>
<text transform="translate(635.00,669.90) scale(0.85,1)" class="tt" style="font-size:23px">t</text>
<path d="M718.60,362.50 H1010.30 V654.00" fill="none" stroke="#747474" stroke-width="1.7"/>
<path d="M722.60,362.50 V658.50 M718.60,654.00 H1010.30" fill="none" stroke="#747474" stroke-width="1.9"/>
<path d="M718.60,648.50H722.60M718.60,640.23H722.60M718.60,631.96H722.60M718.60,623.69H722.60M718.60,615.42H722.60M718.60,607.15H722.60M718.60,598.88H722.60M718.60,590.61H722.60M718.60,582.34H722.60M718.60,574.07H722.60M718.60,565.80H722.60M718.60,557.53H722.60M718.60,549.26H722.60M718.60,540.99H722.60M718.60,532.72H722.60M718.60,524.45H722.60M718.60,516.18H722.60M718.60,507.91H722.60M718.60,499.64H722.60M718.60,491.37H722.60M718.60,483.10H722.60M718.60,474.83H722.60M718.60,466.56H722.60M718.60,458.29H722.60M718.60,450.02H722.60M718.60,441.75H722.60M718.60,433.48H722.60M718.60,425.21H722.60M718.60,416.94H722.60M718.60,408.67H722.60M718.60,400.40H722.60M718.60,392.13H722.60M718.60,383.86H722.60M718.60,375.59H722.60M718.60,367.32H722.60M732.19,654.00V658.50M741.78,654.00V658.50M751.37,654.00V658.50M760.96,654.00V658.50M770.55,654.00V658.50M780.14,654.00V658.50M789.73,654.00V658.50M799.32,654.00V658.50M808.91,654.00V658.50M818.50,654.00V658.50M828.09,654.00V658.50M837.68,654.00V658.50M847.27,654.00V658.50M856.86,654.00V658.50M866.45,654.00V658.50M876.04,654.00V658.50M885.63,654.00V658.50M895.22,654.00V658.50M904.81,654.00V658.50M914.40,654.00V658.50M923.99,654.00V658.50M933.58,654.00V658.50M943.17,654.00V658.50M952.76,654.00V658.50M962.35,654.00V658.50M971.94,654.00V658.50M981.53,654.00V658.50M991.12,654.00V658.50M1000.71,654.00V658.50M1010.30,654.00V658.50" stroke="#5a5a5a" stroke-width="1.5"/>
<text transform="translate(717.60,653.80) scale(0.92,1)" class="tl" text-anchor="end">0</text>
<text transform="translate(717.60,612.45) scale(0.92,1)" class="tl" text-anchor="end">0,5</text>
<text transform="translate(717.60,571.10) scale(0.92,1)" class="tl" text-anchor="end">1</text>
<text transform="translate(717.60,529.75) scale(0.92,1)" class="tl" text-anchor="end">1,5</text>
<text transform="translate(717.60,488.40) scale(0.92,1)" class="tl" text-anchor="end">2</text>
<text transform="translate(717.60,447.05) scale(0.92,1)" class="tl" text-anchor="end">2,5</text>
<text transform="translate(717.60,405.70) scale(0.92,1)" class="tl" text-anchor="end">3</text>
<text transform="translate(722.90,673.50) scale(0.92,1)" class="tl" text-anchor="middle">0</text>
<text transform="translate(770.85,673.50) scale(0.92,1)" class="tl" text-anchor="middle">50</text>
<text transform="translate(818.80,673.50) scale(0.92,1)" class="tl" text-anchor="middle">100</text>
<text transform="translate(866.75,673.50) scale(0.92,1)" class="tl" text-anchor="middle">150</text>
<text transform="translate(914.70,673.50) scale(0.92,1)" class="tl" text-anchor="middle">200</text>
<text transform="translate(962.65,673.50) scale(0.92,1)" class="tl" text-anchor="middle">250</text>
<text transform="translate(1010.60,673.50) scale(0.92,1)" class="tl" text-anchor="middle">300</text>
<path d="M722.60,367.80H1010.30" stroke="#5858ff" stroke-width="1.6"/>
<path d="M722.91,643.94 L724.22,643.84 L725.54,643.75 L726.85,643.66 L728.16,643.57 L729.48,643.47 L730.79,643.38 L732.11,643.28 L733.42,643.19 L734.74,643.09 L736.05,643.00 L737.37,642.90 L738.69,642.81 L740.00,642.71 L741.32,642.62 L742.63,642.52 L743.95,642.42 L745.26,642.33 L746.58,642.23 L747.90,642.13 L749.21,642.03 L750.53,641.94 L751.85,641.84 L753.16,641.74 L754.48,641.64 L755.80,641.54 L757.12,641.45 L758.43,641.35 L759.75,641.25 L761.07,641.15 L762.38,641.05 L763.70,640.95 L765.02,640.85 L766.34,640.76 L767.65,640.66 L768.97,640.56 L770.29,640.46 L771.61,640.36 L772.93,640.26 L774.24,640.17 L775.56,640.07 L776.88,639.97 L778.20,639.87 L779.52,639.78 L780.84,639.68 L782.15,639.58 L783.47,639.48 L784.79,639.39 L786.11,639.29 L787.43,639.19 L788.75,639.10 L790.07,639.00 L791.39,638.91 L792.70,638.81 L794.02,638.72 L795.34,638.62 L796.66,638.53 L797.98,638.43 L799.30,638.34 L800.62,638.25 L801.94,638.15 L803.26,638.06 L804.57,637.97 L805.89,637.88 L807.21,637.79 L808.53,637.69 L809.85,637.60 L811.17,637.51 L812.49,637.42 L813.81,637.34 L815.13,637.25 L816.45,637.16 L817.76,637.07 L819.08,636.99 L820.40,636.90 L821.72,636.81 L823.04,636.73 L824.36,636.65 L825.68,636.56 L827.00,636.48 L828.32,636.40 L829.64,636.32 L830.95,636.23 L832.27,636.15 L833.59,636.07 L834.91,636.00 L836.23,635.92 L837.55,635.84 L838.87,635.76 L840.19,635.69 L841.50,635.61 L842.82,635.54 L844.14,635.47 L845.46,635.39 L846.78,635.32 L848.10,635.25 L849.42,635.18 L850.73,635.11 L852.05,635.04 L853.37,634.98 L854.69,634.91 L856.01,634.85 L857.32,634.78 L858.64,634.72 L859.96,634.66 L861.28,634.60 L862.60,634.54 L863.91,634.48 L865.23,634.42 L866.55,634.36 L867.86,634.31 L869.18,634.25 L870.50,634.20 L871.82,634.14 L873.13,634.09 L874.45,634.04 L875.77,633.99 L877.08,633.95 L878.40,633.90 L879.72,633.85 L881.03,633.81 L882.35,633.77 L883.66,633.72 L884.98,633.68 L886.30,633.64 L887.61,633.61 L888.93,633.57 L890.24,633.53 L891.56,633.50 L892.87,633.47 L894.19,633.44 L895.50,633.40 L896.82,633.38 L898.13,633.35 L899.45,633.32 L900.76,633.30 L902.08,633.28 L903.39,633.25 L904.71,633.23 L906.02,633.21 L907.34,633.20 L908.66,633.18 L909.97,633.17 L911.29,633.15 L912.60,633.14 L913.92,633.13 L915.23,633.12 L916.55,633.12 L917.87,633.11 L919.18,633.11 L920.50,633.11 L921.82,633.10 L923.13,633.10 L924.45,633.11 L925.77,633.11 L927.09,633.12 L928.40,633.12 L929.72,633.13 L931.04,633.14 L932.36,633.15 L933.68,633.17 L935.00,633.18 L936.32,633.20 L937.64,633.22 L938.97,633.24 L940.29,633.26 L941.61,633.29 L942.93,633.31 L944.26,633.34 L945.58,633.37 L946.91,633.40 L948.23,633.43 L949.56,633.46 L950.88,633.50 L952.21,633.54 L953.54,633.58 L954.87,633.62 L956.19,633.66 L957.52,633.71 L958.85,633.75 L960.18,633.80 L961.52,633.85 L962.85,633.90 L964.18,633.96 L965.52,634.01 L966.85,634.07 L968.19,634.13 L969.52,634.19 L970.86,634.26 L972.20,634.32 L973.54,634.39 L974.88,634.46 L976.22,634.53 L977.56,634.61 L978.90,634.68 L980.24,634.76 L981.59,634.84 L982.93,634.92 L984.28,635.01 L985.62,635.11 L986.95,635.22 L988.28,635.35 L989.61,635.50 L990.93,635.66 L992.23,635.86 L993.53,636.07 L994.82,636.32 L996.09,636.60 L997.35,636.91 L998.59,637.26 L999.81,637.66 L1001.02,638.09 L1002.20,638.58 L1003.36,639.12 L1004.50,639.71 L1005.61,640.36 L1006.69,641.08 L1007.74,641.87 L1008.75,642.73 L1009.73,643.66" fill="none" stroke="#ff535d" stroke-width="1.6" stroke-linejoin="round" stroke-linecap="round"/>
<path d="M722.60,610.30 L723.92,610.30 L725.24,610.29 L726.55,610.29 L727.87,610.29 L729.19,610.29 L730.51,610.28 L731.83,610.28 L733.14,610.28 L734.46,610.28 L735.78,610.27 L737.10,610.27 L738.42,610.27 L739.74,610.27 L741.05,610.27 L742.37,610.27 L743.69,610.26 L745.01,610.26 L746.33,610.26 L747.64,610.26 L748.96,610.26 L750.28,610.26 L751.60,610.26 L752.92,610.26 L754.23,610.26 L755.55,610.26 L756.87,610.26 L758.19,610.26 L759.51,610.26 L760.82,610.26 L762.14,610.26 L763.46,610.26 L764.78,610.26 L766.09,610.26 L767.41,610.26 L768.73,610.26 L770.05,610.26 L771.37,610.26 L772.68,610.26 L774.00,610.27 L775.32,610.27 L776.64,610.27 L777.96,610.27 L779.27,610.27 L780.59,610.27 L781.91,610.27 L783.23,610.27 L784.55,610.27 L785.86,610.27 L787.18,610.27 L788.50,610.27 L789.82,610.27 L791.13,610.27 L792.45,610.28 L793.77,610.28 L795.09,610.28 L796.41,610.28 L797.72,610.28 L799.04,610.28 L800.36,610.28 L801.68,610.28 L803.00,610.28 L804.31,610.28 L805.63,610.28 L806.95,610.28 L808.27,610.28 L809.58,610.28 L810.90,610.28 L812.22,610.28 L813.54,610.28 L814.86,610.27 L816.17,610.27 L817.49,610.27 L818.81,610.27 L820.13,610.27 L821.44,610.27 L822.76,610.27 L824.08,610.26 L825.40,610.26 L826.72,610.26 L828.03,610.26 L829.35,610.26 L830.67,610.25 L831.99,610.25 L833.30,610.25 L834.62,610.24 L835.94,610.24 L837.26,610.24 L838.57,610.23 L839.89,610.23 L841.21,610.22 L842.53,610.22 L843.85,610.22 L845.16,610.21 L846.48,610.21 L847.80,610.20 L849.12,610.19 L850.43,610.19 L851.75,610.18 L853.07,610.18 L854.39,610.17 L855.71,610.16 L857.02,610.15 L858.34,610.15 L859.66,610.14 L860.98,610.13 L862.29,610.12 L863.61,610.11 L864.93,610.10 L866.25,610.10 L867.57,610.09 L868.88,610.08 L870.20,610.07 L871.52,610.05 L872.84,610.04 L874.15,610.03 L875.47,610.02 L876.79,610.01 L878.11,610.00 L879.42,609.98 L880.74,609.97 L882.06,609.96 L883.38,609.94 L884.70,609.93 L886.01,609.91 L887.33,609.90 L888.65,609.88 L889.97,609.87 L891.28,609.85 L892.60,609.84 L893.92,609.82 L895.24,609.80 L896.56,609.78 L897.87,609.76 L899.19,609.75 L900.51,609.73 L901.83,609.71 L903.14,609.69 L904.46,609.67 L905.78,609.65 L907.10,609.62 L908.42,609.60 L909.73,609.58 L911.05,609.56 L912.37,609.53 L913.69,609.51 L915.00,609.49 L916.32,609.46 L917.64,609.44 L918.96,609.41 L920.28,609.38 L921.59,609.36 L922.91,609.33 L924.23,609.30 L925.55,609.27 L926.86,609.25 L928.18,609.22 L929.50,609.19 L930.82,609.16 L932.14,609.13 L933.45,609.09 L934.77,609.06 L936.09,609.03 L937.41,609.00 L938.73,608.96 L940.04,608.93 L941.36,608.89 L942.68,608.86 L944.00,608.82 L945.31,608.78 L946.63,608.75 L947.95,608.71 L949.27,608.67 L950.59,608.63 L951.90,608.59 L953.22,608.55 L954.54,608.51 L955.86,608.47 L957.18,608.42 L958.49,608.38 L959.81,608.34 L961.13,608.29 L962.45,608.25 L963.77,608.20 L965.08,608.16 L966.40,608.11 L967.72,608.06 L969.04,608.01 L970.36,607.96 L971.67,607.91 L972.99,607.86 L974.31,607.81 L975.63,607.76 L976.95,607.71 L978.26,607.65 L979.58,607.60 L980.90,607.55 L982.22,607.49 L983.54,607.43 L984.85,607.38 L986.17,607.32 L987.49,607.26 L988.80,607.19 L990.12,607.11 L991.43,607.02 L992.74,606.91 L994.04,606.78 L995.34,606.63 L996.63,606.45 L997.91,606.24 L999.19,606.00 L1000.46,605.73 L1001.71,605.41 L1002.96,605.05 L1004.20,604.64 L1005.43,604.19 L1006.64,603.68 L1007.84,603.11 L1009.03,602.49 L1010.21,601.80" fill="none" stroke="#6e6ed0" stroke-width="1.3" stroke-linejoin="round" stroke-linecap="round"/>
<path d="M722.90,615.03 L724.22,615.12 L725.54,615.21 L726.86,615.29 L728.17,615.38 L729.49,615.47 L730.81,615.56 L732.13,615.64 L733.45,615.73 L734.77,615.82 L736.09,615.91 L737.41,615.99 L738.73,616.08 L740.05,616.17 L741.37,616.26 L742.69,616.34 L744.01,616.43 L745.32,616.52 L746.64,616.61 L747.96,616.70 L749.28,616.78 L750.60,616.87 L751.92,616.96 L753.24,617.05 L754.56,617.14 L755.88,617.23 L757.20,617.31 L758.51,617.40 L759.83,617.49 L761.15,617.58 L762.47,617.67 L763.79,617.76 L765.11,617.85 L766.43,617.94 L767.74,618.02 L769.06,618.11 L770.38,618.20 L771.70,618.29 L773.02,618.38 L774.34,618.47 L775.65,618.56 L776.97,618.65 L778.29,618.74 L779.61,618.83 L780.93,618.92 L782.25,619.01 L783.56,619.10 L784.88,619.20 L786.20,619.29 L787.52,619.38 L788.84,619.47 L790.15,619.56 L791.47,619.65 L792.79,619.74 L794.11,619.84 L795.43,619.93 L796.74,620.02 L798.06,620.11 L799.38,620.21 L800.70,620.30 L802.02,620.39 L803.33,620.49 L804.65,620.58 L805.97,620.67 L807.29,620.77 L808.60,620.86 L809.92,620.96 L811.24,621.05 L812.56,621.15 L813.88,621.24 L815.19,621.34 L816.51,621.43 L817.83,621.53 L819.15,621.62 L820.46,621.72 L821.78,621.82 L823.10,621.91 L824.42,622.01 L825.73,622.11 L827.05,622.21 L828.37,622.30 L829.69,622.40 L831.00,622.50 L832.32,622.60 L833.64,622.70 L834.96,622.80 L836.27,622.90 L837.59,623.00 L838.91,623.10 L840.22,623.20 L841.54,623.30 L842.86,623.40 L844.18,623.50 L845.49,623.60 L846.81,623.70 L848.13,623.80 L849.44,623.91 L850.76,624.01 L852.08,624.11 L853.40,624.22 L854.71,624.32 L856.03,624.42 L857.35,624.53 L858.66,624.63 L859.98,624.74 L861.30,624.84 L862.62,624.95 L863.93,625.05 L865.25,625.16 L866.57,625.27 L867.88,625.38 L869.20,625.48 L870.52,625.59 L871.84,625.70 L873.15,625.81 L874.47,625.92 L875.79,626.03 L877.10,626.14 L878.42,626.25 L879.74,626.36 L881.05,626.47 L882.37,626.58 L883.69,626.69 L885.00,626.80 L886.32,626.92 L887.64,627.03 L888.96,627.14 L890.27,627.26 L891.59,627.37 L892.91,627.49 L894.22,627.60 L895.54,627.72 L896.86,627.83 L898.17,627.95 L899.49,628.07 L900.81,628.18 L902.12,628.30 L903.44,628.42 L904.76,628.54 L906.07,628.66 L907.39,628.78 L908.71,628.90 L910.02,629.02 L911.34,629.14 L912.66,629.26 L913.97,629.38 L915.29,629.51 L916.61,629.63 L917.92,629.76 L919.24,629.88 L920.56,630.01 L921.87,630.13 L923.19,630.26 L924.51,630.39 L925.82,630.52 L927.14,630.65 L928.46,630.79 L929.77,630.92 L931.09,631.06 L932.41,631.19 L933.72,631.33 L935.04,631.47 L936.35,631.61 L937.67,631.75 L938.98,631.89 L940.30,632.04 L941.62,632.18 L942.93,632.33 L944.25,632.48 L945.56,632.63 L946.88,632.78 L948.19,632.93 L949.51,633.09 L950.82,633.25 L952.14,633.41 L953.45,633.57 L954.77,633.73 L956.08,633.89 L957.40,634.06 L958.71,634.23 L960.02,634.40 L961.34,634.57 L962.65,634.75 L963.96,634.92 L965.28,635.10 L966.59,635.28 L967.90,635.47 L969.22,635.65 L970.53,635.84 L971.84,636.03 L973.16,636.22 L974.47,636.42 L975.78,636.62 L977.09,636.83 L978.40,637.04 L979.70,637.25 L981.01,637.48 L982.31,637.71 L983.61,637.95 L984.91,638.20 L986.20,638.46 L987.49,638.73 L988.78,639.01 L990.06,639.30 L991.34,639.61 L992.61,639.93 L993.88,640.27 L995.14,640.62 L996.40,640.98 L997.65,641.37 L998.89,641.77 L1000.13,642.19 L1001.36,642.63 L1002.58,643.08 L1003.80,643.56 L1005.00,644.06 L1006.20,644.59 L1007.39,645.13 L1008.58,645.70 L1009.75,646.29" fill="none" stroke="#4a4a4a" stroke-width="1.3" stroke-linejoin="round" stroke-linecap="round"/>
<text x="846.20" y="388.40" class="it" style="font-size:26px">2</text>
<text x="859.00" y="389.40" class="it" style="font-size:27px">b</text>
<text x="811.95" y="624.45" class="it" style="font-size:26px">a</text>
<text x="748.40" y="629.00" class="it" style="font-size:27px">φ</text>
<text x="932.80" y="593.00" class="it" style="font-size:27px">φ</text>
<text x="945.80" y="596.55" class="sb" style="font-size:17.5px">1</text>
<rect x="946.50" y="386.30" width="54.60" height="50.70" fill="#fff" stroke="#111" stroke-width="1.3"/>
<text x="957.85" y="420.65" class="tb" style="font-size:28.5px">T5</text>
<text transform="translate(987.55,669.55) scale(0.85,1)" class="tt" style="font-size:23px">t</text>
</svg></body></html>
